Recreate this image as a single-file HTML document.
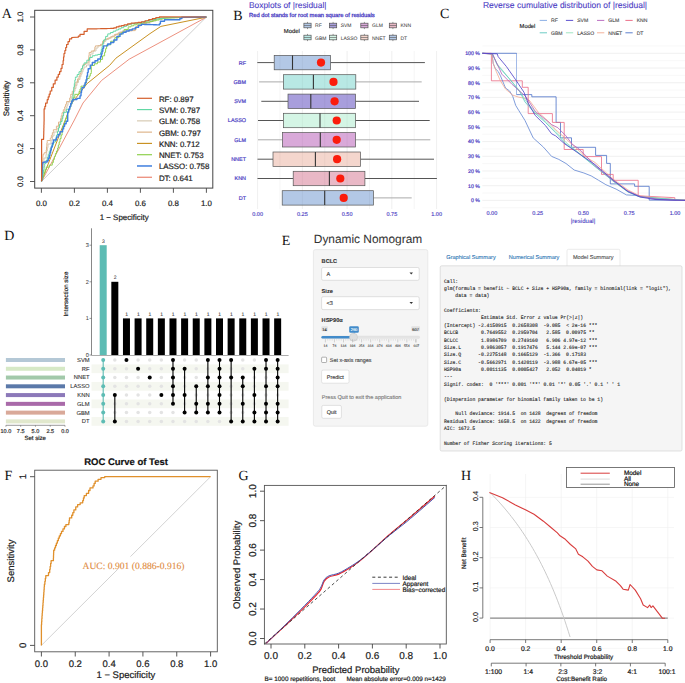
<!DOCTYPE html>
<html><head><meta charset="utf-8"><style>
html,body{margin:0;padding:0;background:#fff;width:685px;height:683px;overflow:hidden}
svg{display:block} text{text-rendering:geometricPrecision}
</style></head><body>
<svg width="685" height="683" viewBox="0 0 685 683">
<rect x="0" y="0" width="685" height="683" fill="#fff"/>
<text x="6.9" y="14.8" style="font-family:'Liberation Serif',serif;font-size:14px;font-weight:normal" fill="#111" text-anchor="middle" dominant-baseline="central">A</text>
<rect x="34.7" y="10.3" width="178.1" height="177.8" fill="none" stroke="#444" stroke-width="1" rx="0"/>
<line x1="41.4" y1="181.5" x2="206.4" y2="17.0" stroke="#c8c8c8" stroke-width="0.9"/>
<line x1="41.4" y1="188.1" x2="41.4" y2="192.8" stroke="#444" stroke-width="0.9"/>
<line x1="30" y1="181.5" x2="34.7" y2="181.5" stroke="#444" stroke-width="0.9"/>
<text x="41.4" y="203.5" style="font-family:'Liberation Sans',sans-serif;font-size:7.9px;font-weight:normal" fill="#222" text-anchor="middle" dominant-baseline="central" stroke="#222" stroke-width="0.2">0.0</text>
<text x="20.8" y="181.5" style="font-family:'Liberation Sans',sans-serif;font-size:7.9px;font-weight:normal" fill="#222" text-anchor="middle" dominant-baseline="central" transform="rotate(-90 20.8 181.5)" stroke="#222" stroke-width="0.2">0.0</text>
<line x1="74.4" y1="188.1" x2="74.4" y2="192.8" stroke="#444" stroke-width="0.9"/>
<line x1="30" y1="148.6" x2="34.7" y2="148.6" stroke="#444" stroke-width="0.9"/>
<text x="74.4" y="203.5" style="font-family:'Liberation Sans',sans-serif;font-size:7.9px;font-weight:normal" fill="#222" text-anchor="middle" dominant-baseline="central" stroke="#222" stroke-width="0.2">0.2</text>
<text x="20.8" y="148.6" style="font-family:'Liberation Sans',sans-serif;font-size:7.9px;font-weight:normal" fill="#222" text-anchor="middle" dominant-baseline="central" transform="rotate(-90 20.8 148.6)" stroke="#222" stroke-width="0.2">0.2</text>
<line x1="107.4" y1="188.1" x2="107.4" y2="192.8" stroke="#444" stroke-width="0.9"/>
<line x1="30" y1="115.7" x2="34.7" y2="115.7" stroke="#444" stroke-width="0.9"/>
<text x="107.4" y="203.5" style="font-family:'Liberation Sans',sans-serif;font-size:7.9px;font-weight:normal" fill="#222" text-anchor="middle" dominant-baseline="central" stroke="#222" stroke-width="0.2">0.4</text>
<text x="20.8" y="115.7" style="font-family:'Liberation Sans',sans-serif;font-size:7.9px;font-weight:normal" fill="#222" text-anchor="middle" dominant-baseline="central" transform="rotate(-90 20.8 115.7)" stroke="#222" stroke-width="0.2">0.4</text>
<line x1="140.4" y1="188.1" x2="140.4" y2="192.8" stroke="#444" stroke-width="0.9"/>
<line x1="30" y1="82.8" x2="34.7" y2="82.8" stroke="#444" stroke-width="0.9"/>
<text x="140.4" y="203.5" style="font-family:'Liberation Sans',sans-serif;font-size:7.9px;font-weight:normal" fill="#222" text-anchor="middle" dominant-baseline="central" stroke="#222" stroke-width="0.2">0.6</text>
<text x="20.8" y="82.8" style="font-family:'Liberation Sans',sans-serif;font-size:7.9px;font-weight:normal" fill="#222" text-anchor="middle" dominant-baseline="central" transform="rotate(-90 20.8 82.8)" stroke="#222" stroke-width="0.2">0.6</text>
<line x1="173.4" y1="188.1" x2="173.4" y2="192.8" stroke="#444" stroke-width="0.9"/>
<line x1="30" y1="49.900000000000006" x2="34.7" y2="49.900000000000006" stroke="#444" stroke-width="0.9"/>
<text x="173.4" y="203.5" style="font-family:'Liberation Sans',sans-serif;font-size:7.9px;font-weight:normal" fill="#222" text-anchor="middle" dominant-baseline="central" stroke="#222" stroke-width="0.2">0.8</text>
<text x="20.8" y="49.900000000000006" style="font-family:'Liberation Sans',sans-serif;font-size:7.9px;font-weight:normal" fill="#222" text-anchor="middle" dominant-baseline="central" transform="rotate(-90 20.8 49.900000000000006)" stroke="#222" stroke-width="0.2">0.8</text>
<line x1="206.4" y1="188.1" x2="206.4" y2="192.8" stroke="#444" stroke-width="0.9"/>
<line x1="30" y1="17.0" x2="34.7" y2="17.0" stroke="#444" stroke-width="0.9"/>
<text x="206.4" y="203.5" style="font-family:'Liberation Sans',sans-serif;font-size:7.9px;font-weight:normal" fill="#222" text-anchor="middle" dominant-baseline="central" stroke="#222" stroke-width="0.2">1.0</text>
<text x="20.8" y="17.0" style="font-family:'Liberation Sans',sans-serif;font-size:7.9px;font-weight:normal" fill="#222" text-anchor="middle" dominant-baseline="central" transform="rotate(-90 20.8 17.0)" stroke="#222" stroke-width="0.2">1.0</text>
<text x="124.2" y="217.6" style="font-family:'Liberation Sans',sans-serif;font-size:7.9px;font-weight:normal" fill="#222" text-anchor="middle" dominant-baseline="central" stroke="#222" stroke-width="0.2">1 − Specificity</text>
<text x="6.0" y="98.5" style="font-family:'Liberation Sans',sans-serif;font-size:7.9px;font-weight:normal" fill="#222" text-anchor="middle" dominant-baseline="central" transform="rotate(-90 6.0 98.5)" stroke="#222" stroke-width="0.2">Sensitivity</text>
<polyline points="41.60,181.30 74.40,120.00 83.00,103.00 101.50,80.50 129.20,59.20 150.00,47.90 206.40,17.20" fill="none" stroke="#ea8470" stroke-width="0.9" stroke-linejoin="round"/>
<polyline points="41.40,181.50 71.80,103.00 87.10,83.60 109.70,65.30 115.90,58.20 150.00,33.60 160.90,26.40 206.40,17.20" fill="none" stroke="#c99223" stroke-width="1.0" stroke-linejoin="round"/>
<polyline points="41.60,181.30 41.60,179.78 41.94,179.78 41.94,176.74 42.29,176.74 42.29,173.69 42.63,173.69 42.63,170.65 42.97,170.65 42.97,167.61 43.31,167.61 43.31,164.56 43.66,164.56 43.66,161.52 44.00,161.52 44.00,160.00 44.00,158.00 46.00,158.00 46.00,156.00 46.00,154.33 46.67,154.33 46.67,151.00 47.33,151.00 47.33,147.67 48.00,147.67 48.00,146.00 48.00,144.00 51.00,144.00 51.00,142.00 51.00,140.00 52.50,140.00 52.50,136.00 54.00,136.00 54.00,134.00 54.00,132.00 57.00,132.00 57.00,130.00 57.00,128.75 58.25,128.75 58.25,126.25 59.50,126.25 59.50,125.00 59.50,123.75 60.50,123.75 60.50,121.25 61.50,121.25 61.50,120.00 61.50,118.50 62.50,118.50 62.50,115.50 63.50,115.50 63.50,114.00 63.50,112.75 64.75,112.75 64.75,110.25 66.00,110.25 66.00,109.00 66.00,107.75 67.00,107.75 67.00,105.25 68.00,105.25 68.00,104.00 68.00,102.00 71.00,102.00 71.00,100.00 71.00,98.75 71.75,98.75 71.75,96.25 72.50,96.25 72.50,95.00 72.50,93.75 73.75,93.75 73.75,91.25 75.00,91.25 75.00,90.00 75.00,88.50 76.00,88.50 76.00,85.50 77.00,85.50 77.00,84.00 77.00,82.50 78.50,82.50 78.50,79.50 80.00,79.50 80.00,78.00 80.00,76.75 81.00,76.75 81.00,74.25 82.00,74.25 82.00,73.00 82.00,71.75 83.00,71.75 83.00,69.25 84.00,69.25 84.00,68.00 84.00,67.00 86.50,67.00 86.50,65.00 89.00,65.00 89.00,64.00 89.00,62.00 89.75,62.00 89.75,58.00 90.50,58.00 90.50,56.00 90.50,54.00 93.00,54.00 93.00,52.00 93.00,51.00 96.00,51.00 96.00,50.00 96.00,48.00 98.00,48.00 98.00,46.00 98.00,45.50 102.00,45.50 102.00,45.00 102.00,43.75 104.00,43.75 104.00,41.25 106.00,41.25 106.00,40.00 106.00,39.25 109.00,39.25 109.00,37.75 112.00,37.75 112.00,37.00 112.00,36.00 115.50,36.00 115.50,34.00 119.00,34.00 119.00,33.00 119.00,32.25 122.50,32.25 122.50,30.75 126.00,30.75 126.00,30.00 126.00,29.83 129.33,29.83 129.33,29.50 132.67,29.50 132.67,29.17 136.00,29.17 136.00,29.00 136.00,26.75 140.00,26.75 140.00,24.50 140.00,24.12 143.00,24.12 143.00,23.38 146.00,23.38 146.00,22.62 149.00,22.62 149.00,21.88 152.00,21.88 152.00,21.50 152.00,20.92 155.33,20.92 155.33,19.75 158.67,19.75 158.67,18.58 162.00,18.58 162.00,18.00 162.00,17.97 165.17,17.97 165.17,17.91 168.34,17.91 168.34,17.86 171.51,17.86 171.51,17.80 174.69,17.80 174.69,17.74 177.86,17.74 177.86,17.69 181.03,17.69 181.03,17.63 184.20,17.63 184.20,17.57 187.37,17.57 187.37,17.51 190.54,17.51 190.54,17.46 193.71,17.46 193.71,17.40 196.89,17.40 196.89,17.34 200.06,17.34 200.06,17.29 203.23,17.29 203.23,17.23 206.40,17.23 206.40,17.20" fill="none" stroke="#d7cab4" stroke-width="1.0" stroke-linejoin="round"/>
<polyline points="41.60,181.30 41.60,179.64 41.79,179.64 41.79,176.33 41.98,176.33 41.98,173.02 42.16,173.02 42.16,169.71 42.35,169.71 42.35,166.39 42.54,166.39 42.54,163.08 42.73,163.08 42.73,159.77 42.91,159.77 42.91,156.46 43.10,156.46 43.10,154.80 43.10,154.30 44.10,154.30 44.10,153.80 44.10,152.80 46.20,152.80 46.20,151.80 46.20,150.08 46.53,150.08 46.53,146.65 46.87,146.65 46.87,143.22 47.20,143.22 47.20,141.50 47.20,140.50 50.30,140.50 50.30,139.50 50.30,138.13 51.33,138.13 51.33,135.40 52.37,135.40 52.37,132.67 53.40,132.67 53.40,131.30 53.40,129.75 56.40,129.75 56.40,128.20 56.40,126.15 58.50,126.15 58.50,124.10 58.50,122.05 60.50,122.05 60.50,120.00 60.50,118.58 61.25,118.58 61.25,115.72 62.00,115.72 62.00,114.30 62.00,112.78 63.30,112.78 63.30,109.73 64.60,109.73 64.60,108.20 64.60,106.90 65.60,106.90 65.60,104.30 66.60,104.30 66.60,103.00 66.60,101.50 69.70,101.50 69.70,100.00 69.70,97.95 70.70,97.95 70.70,95.90 70.70,94.35 72.25,94.35 72.25,91.25 73.80,91.25 73.80,89.70 73.80,88.17 74.85,88.17 74.85,85.12 75.90,85.12 75.90,83.60 75.90,82.05 77.45,82.05 77.45,78.95 79.00,78.95 79.00,77.40 79.00,76.12 80.00,76.12 80.00,73.57 81.00,73.57 81.00,72.30 81.00,71.03 81.75,71.03 81.75,68.48 82.50,68.48 82.50,67.20 82.50,66.25 83.10,66.25 83.10,65.30 83.10,64.55 85.65,64.55 85.65,63.05 88.20,63.05 88.20,62.30 88.20,60.93 88.53,60.93 88.53,58.20 88.87,58.20 88.87,55.47 89.20,55.47 89.20,54.10 89.20,52.55 91.30,52.55 91.30,51.00 94.30,51.00 94.30,49.73 94.85,49.73 94.85,47.17 95.40,47.17 95.40,45.90 100.50,45.90 100.50,44.35 102.55,44.35 102.55,41.25 104.60,41.25 104.60,39.70 104.60,39.20 107.65,39.20 107.65,38.20 110.70,38.20 110.70,37.70 110.70,36.68 114.30,36.68 114.30,34.62 117.90,34.62 117.90,33.60 117.90,33.08 120.45,33.08 120.45,32.03 123.00,32.03 123.00,31.50 123.00,31.38 126.08,31.38 126.08,31.12 129.15,31.12 129.15,30.88 132.23,30.88 132.23,30.62 135.30,30.62 135.30,30.50 135.30,29.23 136.35,29.23 136.35,26.68 137.40,26.68 137.40,25.40 137.40,25.01 140.55,25.01 140.55,24.24 143.70,24.24 143.70,23.46 146.85,23.46 146.85,22.69 150.00,22.69 150.00,22.30 150.00,21.50 153.13,21.50 153.13,19.90 156.27,19.90 156.27,18.30 159.40,18.30 159.40,17.50 159.40,17.49 162.53,17.49 162.53,17.47 165.67,17.47 165.67,17.45 168.80,17.45 168.80,17.43 171.93,17.43 171.93,17.41 175.07,17.41 175.07,17.39 178.20,17.39 178.20,17.37 181.33,17.37 181.33,17.35 184.47,17.35 184.47,17.33 187.60,17.33 187.60,17.31 190.73,17.31 190.73,17.29 193.87,17.29 193.87,17.27 197.00,17.27 197.00,17.25 200.13,17.25 200.13,17.23 203.27,17.23 203.27,17.21 206.40,17.21 206.40,17.20" fill="none" stroke="#dfb68c" stroke-width="1.0" stroke-linejoin="round"/>
<polyline points="41.60,181.30 41.60,179.66 42.75,179.66 42.75,176.39 43.90,176.39 43.90,173.11 45.05,173.11 45.05,169.84 46.20,169.84 46.20,168.20 46.20,167.17 49.25,167.17 49.25,165.12 52.30,165.12 52.30,164.10 52.30,162.55 53.33,162.55 53.33,159.45 54.37,159.45 54.37,156.35 55.40,156.35 55.40,154.80 55.40,153.53 56.45,153.53 56.45,150.97 57.50,150.97 57.50,149.70 57.50,148.17 58.33,148.17 58.33,145.10 59.17,145.10 59.17,142.03 60.00,142.03 60.00,140.50 60.00,138.70 61.05,138.70 61.05,135.10 62.10,135.10 62.10,133.30 62.10,132.03 62.35,132.03 62.35,129.47 62.60,129.47 62.60,128.20 62.60,126.83 63.63,126.83 63.63,124.10 64.67,124.10 64.67,121.37 65.70,121.37 65.70,120.00 65.70,118.70 66.60,118.70 66.60,117.40 66.60,115.86 67.62,115.86 67.62,112.79 68.65,112.79 68.65,109.71 69.68,109.71 69.68,106.64 70.70,106.64 70.70,105.10 70.70,103.57 72.07,103.57 72.07,100.50 73.43,100.50 73.43,97.43 74.80,97.43 74.80,95.90 74.80,94.35 79.00,94.35 79.00,92.80 79.00,91.53 80.00,91.53 80.00,88.98 81.00,88.98 81.00,87.70 81.00,86.15 85.10,86.15 85.10,84.60 85.10,83.32 86.10,83.32 86.10,80.77 87.10,80.77 87.10,79.50 87.10,78.45 89.20,78.45 89.20,77.40 89.20,76.12 90.25,76.12 90.25,73.57 91.30,73.57 91.30,72.30 91.30,66.40 91.30,65.53 94.37,65.53 94.37,63.80 97.43,63.80 97.43,62.07 100.50,62.07 100.50,61.20 100.50,59.43 102.55,59.43 102.55,55.88 104.60,55.88 104.60,54.10 104.60,52.30 105.60,52.30 105.60,48.70 106.60,48.70 106.60,46.90 106.60,44.85 110.70,44.85 110.70,42.80 110.70,41.25 114.80,41.25 114.80,39.70 114.80,37.65 118.90,37.65 118.90,35.60 118.90,34.58 121.50,34.58 121.50,32.53 124.10,32.53 124.10,31.50 124.10,29.45 128.20,29.45 128.20,27.40 128.20,26.88 130.93,26.88 130.93,25.85 133.67,25.85 133.67,24.82 136.40,24.82 136.40,24.30 136.40,23.99 139.80,23.99 139.80,23.36 143.20,23.36 143.20,22.74 146.60,22.74 146.60,22.11 150.00,22.11 150.00,21.80 150.00,21.44 153.10,21.44 153.10,20.72 156.20,20.72 156.20,20.00 159.30,20.00 159.30,19.28 162.40,19.28 162.40,18.56 165.50,18.56 165.50,18.20 165.50,18.12 168.58,18.12 168.58,17.96 171.66,17.96 171.66,17.80 174.74,17.80 174.74,17.64 177.82,17.64 177.82,17.48 180.90,17.48 180.90,17.40 206.40,17.20" fill="none" stroke="#8fd14f" stroke-width="1.0" stroke-linejoin="round"/>
<polyline points="41.60,181.30 41.60,179.68 42.22,179.68 42.22,176.44 42.84,176.44 42.84,173.20 43.46,173.20 43.46,169.96 44.08,169.96 44.08,166.72 44.70,166.72 44.70,165.10 44.70,163.55 45.95,163.55 45.95,160.45 47.20,160.45 47.20,158.90 47.20,157.37 48.23,157.37 48.23,154.30 49.27,154.30 49.27,151.23 50.30,151.23 50.30,149.70 50.30,148.17 51.85,148.17 51.85,145.12 53.40,145.12 53.40,143.60 53.40,142.05 55.40,142.05 55.40,140.50 55.40,138.70 56.45,138.70 56.45,135.10 57.50,135.10 57.50,133.30 57.50,131.50 58.50,131.50 58.50,127.90 59.50,127.90 59.50,126.10 59.50,124.57 60.80,124.57 60.80,121.52 62.10,121.52 62.10,120.00 62.10,118.58 62.85,118.58 62.85,115.72 63.60,115.72 63.60,114.30 63.60,112.25 66.60,112.25 66.60,110.20 66.60,109.20 69.70,109.20 69.70,108.20 69.70,106.65 70.73,106.65 70.73,103.55 71.77,103.55 71.77,100.45 72.80,100.45 72.80,98.90 72.80,97.20 73.13,97.20 73.13,93.80 73.47,93.80 73.47,90.40 73.80,90.40 73.80,88.70 73.80,86.98 74.33,86.98 74.33,83.55 74.87,83.55 74.87,80.12 75.40,80.12 75.40,78.40 75.40,77.12 77.20,77.12 77.20,74.57 79.00,74.57 79.00,73.30 79.00,71.75 81.00,71.75 81.00,70.20 81.00,68.72 82.55,68.72 82.55,65.77 84.10,65.77 84.10,64.30 84.10,62.93 86.83,62.93 86.83,60.20 89.57,60.20 89.57,57.47 92.30,57.47 92.30,56.10 92.30,55.77 95.03,55.77 95.03,55.10 97.77,55.10 97.77,54.43 100.50,54.43 100.50,54.10 100.50,52.56 101.28,52.56 101.28,49.49 102.05,49.49 102.05,46.41 102.83,46.41 102.83,43.34 103.60,43.34 103.60,41.80 103.60,40.00 105.65,40.00 105.65,36.40 107.70,36.40 107.70,34.60 107.70,33.92 110.43,33.92 110.43,32.55 113.17,32.55 113.17,31.18 115.90,31.18 115.90,30.50 115.90,29.98 118.45,29.98 118.45,28.93 121.00,28.93 121.00,28.40 121.00,27.72 123.73,27.72 123.73,26.35 126.47,26.35 126.47,24.98 129.20,24.98 129.20,24.30 129.20,24.05 132.27,24.05 132.27,23.55 135.35,23.55 135.35,23.05 138.42,23.05 138.42,22.55 141.50,22.55 141.50,22.30 141.50,21.95 144.33,21.95 144.33,21.25 147.17,21.25 147.17,20.55 150.00,20.55 150.00,20.20 150.00,19.95 153.10,19.95 153.10,19.45 156.20,19.45 156.20,18.95 159.30,18.95 159.30,18.45 162.40,18.45 162.40,17.95 165.50,17.95 165.50,17.70 165.50,17.68 168.65,17.68 168.65,17.64 171.79,17.64 171.79,17.60 174.94,17.60 174.94,17.57 178.08,17.57 178.08,17.53 181.23,17.53 181.23,17.49 184.38,17.49 184.38,17.45 187.52,17.45 187.52,17.41 190.67,17.41 190.67,17.37 193.82,17.37 193.82,17.33 196.96,17.33 196.96,17.30 200.11,17.30 200.11,17.26 203.25,17.26 203.25,17.22 206.40,17.22 206.40,17.20" fill="none" stroke="#62d8a4" stroke-width="1.0" stroke-linejoin="round"/>
<polyline points="41.60,181.30 41.60,179.78 41.77,179.78 41.77,176.72 41.93,176.72 41.93,173.67 42.10,173.67 42.10,170.62 42.27,170.62 42.27,167.57 42.43,167.57 42.43,164.52 42.60,164.52 42.60,163.00 42.60,162.50 44.10,162.50 44.10,162.00 47.20,162.00 47.20,160.72 48.25,160.72 48.25,158.18 49.30,158.18 49.30,156.90 49.30,155.53 49.97,155.53 49.97,152.80 50.63,152.80 50.63,150.07 51.30,150.07 51.30,148.70 51.30,146.90 52.35,146.90 52.35,143.30 53.40,143.30 53.40,141.50 53.40,139.95 56.40,139.95 56.40,138.40 56.40,137.12 58.20,137.12 58.20,134.57 60.00,134.57 60.00,133.30 60.00,131.75 62.60,131.75 62.60,130.20 62.60,128.92 63.60,128.92 63.60,126.37 64.60,126.37 64.60,125.10 64.60,123.82 66.15,123.82 66.15,121.27 67.70,121.27 67.70,120.00 67.70,113.30 67.70,111.93 68.70,111.93 68.70,109.20 69.70,109.20 69.70,106.47 70.70,106.47 70.70,105.10 70.70,103.82 71.75,103.82 71.75,101.27 72.80,101.27 72.80,100.00 72.80,99.45 76.90,99.45 76.90,98.90 76.90,98.40 80.00,98.40 80.00,97.90 80.00,95.85 81.00,95.85 81.00,93.80 81.00,92.53 81.50,92.53 81.50,89.98 82.00,89.98 82.00,88.70 82.00,87.65 84.10,87.65 84.10,86.60 84.10,85.32 85.10,85.32 85.10,82.77 86.10,82.77 86.10,81.50 86.10,79.67 86.80,79.67 86.80,76.00 87.50,76.00 87.50,72.33 88.20,72.33 88.20,70.50 88.20,68.70 90.25,68.70 90.25,65.10 92.30,65.10 92.30,63.30 92.30,62.45 95.03,62.45 95.03,60.75 97.77,60.75 97.77,59.05 100.50,59.05 100.50,58.20 100.50,56.79 101.28,56.79 101.28,53.96 102.05,53.96 102.05,51.14 102.83,51.14 102.83,48.31 103.60,48.31 103.60,46.90 103.60,45.85 107.70,45.85 107.70,44.80 107.70,44.05 110.75,44.05 110.75,42.55 113.80,42.55 113.80,41.80 113.80,40.00 116.90,40.00 116.90,36.40 120.00,36.40 120.00,34.60 120.00,33.83 123.05,33.83 123.05,32.28 126.10,32.28 126.10,31.50 126.10,30.98 129.17,30.98 129.17,29.95 132.23,29.95 132.23,28.92 135.30,28.92 135.30,28.40 135.30,27.38 138.40,27.38 138.40,25.33 141.50,25.33 141.50,24.30 141.50,24.35 144.48,24.35 144.48,24.45 147.47,24.45 147.47,24.55 150.45,24.55 150.45,24.65 153.43,24.65 153.43,24.75 156.42,24.75 156.42,24.85 159.40,24.85 159.40,24.90 159.40,23.85 160.40,23.85 160.40,22.80 160.40,21.30 164.50,21.30 164.50,19.80 179.90,19.80 179.90,18.50 181.90,18.50 181.90,17.20 206.40,17.00" fill="none" stroke="#3f7fdf" stroke-width="1.4" stroke-linejoin="round"/>
<polyline points="41.60,181.30 41.60,139.50 41.60,139.35 43.60,139.35 43.60,139.20 43.60,137.60 43.68,137.60 43.68,134.40 43.77,134.40 43.77,131.20 43.85,131.20 43.85,128.00 43.93,128.00 43.93,124.80 44.02,124.80 44.02,121.60 44.10,121.60 44.10,120.00 44.10,110.20 44.10,108.92 44.85,108.92 44.85,106.38 45.60,106.38 45.60,105.10 45.60,103.05 47.20,103.05 47.20,101.00 47.20,99.63 48.20,99.63 48.20,96.90 49.20,96.90 49.20,94.17 50.20,94.17 50.20,92.80 50.20,91.00 51.75,91.00 51.75,87.40 53.30,87.40 53.30,85.60 53.30,83.80 55.10,83.80 55.10,80.20 56.90,80.20 56.90,78.40 56.90,77.03 58.27,77.03 58.27,74.30 59.63,74.30 59.63,71.57 61.00,71.57 61.00,70.20 61.00,68.30 62.05,68.30 62.05,64.50 63.10,64.50 63.10,62.60 63.10,60.70 63.55,60.70 63.55,56.90 64.00,56.90 64.00,55.00 64.00,53.50 64.87,53.50 64.87,50.50 65.73,50.50 65.73,47.50 66.60,47.50 66.60,46.00 66.60,44.52 68.05,44.52 68.05,41.58 69.50,41.58 69.50,40.10 69.50,38.80 71.70,38.80 71.70,37.50 78.30,37.20 78.30,36.15 80.00,36.15 80.00,35.10 80.00,34.35 84.10,34.35 84.10,33.60 84.10,31.30 87.20,31.30 87.20,29.00 87.20,28.96 90.53,28.96 90.53,28.89 93.85,28.89 93.85,28.81 97.18,28.81 97.18,28.74 100.50,28.74 100.50,28.66 103.83,28.66 103.83,28.59 107.15,28.59 107.15,28.51 110.48,28.51 110.48,28.44 113.80,28.44 113.80,28.40 113.80,27.90 116.35,27.90 116.35,26.90 118.90,26.90 118.90,26.40 118.90,26.15 121.50,26.15 121.50,25.65 124.10,25.65 124.10,25.40 124.10,24.88 127.65,24.88 127.65,23.83 131.20,23.83 131.20,23.30 131.20,23.13 134.63,23.13 134.63,22.80 138.07,22.80 138.07,22.47 141.50,22.47 141.50,22.30 141.50,21.78 145.10,21.78 145.10,20.75 148.70,20.75 148.70,19.72 152.30,19.72 152.30,19.20 152.30,18.62 155.85,18.62 155.85,17.48 159.40,17.48 159.40,16.90 206.40,17.00" fill="none" stroke="#d45f2c" stroke-width="1.2" stroke-linejoin="round"/>
<line x1="137" y1="98.3" x2="152" y2="98.3" stroke="#d45f2c" stroke-width="1.2"/>
<text x="158.9" y="99.2" style="font-family:'Liberation Sans',sans-serif;font-size:7.9px;font-weight:normal" fill="#222" text-anchor="start" dominant-baseline="central" stroke="#222" stroke-width="0.2">RF: 0.897</text>
<line x1="137" y1="109.58" x2="152" y2="109.58" stroke="#62d8a4" stroke-width="1.2"/>
<text x="158.9" y="110.48" style="font-family:'Liberation Sans',sans-serif;font-size:7.9px;font-weight:normal" fill="#222" text-anchor="start" dominant-baseline="central" stroke="#222" stroke-width="0.2">SVM: 0.787</text>
<line x1="137" y1="120.86" x2="152" y2="120.86" stroke="#d7cab4" stroke-width="1.2"/>
<text x="158.9" y="121.76" style="font-family:'Liberation Sans',sans-serif;font-size:7.9px;font-weight:normal" fill="#222" text-anchor="start" dominant-baseline="central" stroke="#222" stroke-width="0.2">GLM: 0.758</text>
<line x1="137" y1="132.14" x2="152" y2="132.14" stroke="#dfb68c" stroke-width="1.2"/>
<text x="158.9" y="133.04" style="font-family:'Liberation Sans',sans-serif;font-size:7.9px;font-weight:normal" fill="#222" text-anchor="start" dominant-baseline="central" stroke="#222" stroke-width="0.2">GBM: 0.797</text>
<line x1="137" y1="143.42" x2="152" y2="143.42" stroke="#c99223" stroke-width="1.2"/>
<text x="158.9" y="144.32" style="font-family:'Liberation Sans',sans-serif;font-size:7.9px;font-weight:normal" fill="#222" text-anchor="start" dominant-baseline="central" stroke="#222" stroke-width="0.2">KNN: 0.712</text>
<line x1="137" y1="154.7" x2="152" y2="154.7" stroke="#8fd14f" stroke-width="1.2"/>
<text x="158.9" y="155.6" style="font-family:'Liberation Sans',sans-serif;font-size:7.9px;font-weight:normal" fill="#222" text-anchor="start" dominant-baseline="central" stroke="#222" stroke-width="0.2">NNET: 0.753</text>
<line x1="137" y1="165.98" x2="152" y2="165.98" stroke="#3f7fdf" stroke-width="1.5"/>
<text x="158.9" y="166.88" style="font-family:'Liberation Sans',sans-serif;font-size:7.9px;font-weight:normal" fill="#222" text-anchor="start" dominant-baseline="central" stroke="#222" stroke-width="0.2">LASSO: 0.758</text>
<line x1="137" y1="177.26" x2="152" y2="177.26" stroke="#ea8470" stroke-width="1.2"/>
<text x="158.9" y="178.16" style="font-family:'Liberation Sans',sans-serif;font-size:7.9px;font-weight:normal" fill="#222" text-anchor="start" dominant-baseline="central" stroke="#222" stroke-width="0.2">DT: 0.641</text>
<text x="238.0" y="16.2" style="font-family:'Liberation Serif',serif;font-size:14px;font-weight:normal" fill="#111" text-anchor="middle" dominant-baseline="central">B</text>
<text x="249.0" y="5.1" style="font-family:'Liberation Sans',sans-serif;font-size:8.4px;font-weight:normal" fill="#4b3dc4" text-anchor="start" dominant-baseline="central" stroke="#4b3dc4" stroke-width="0.1">Boxplots of |residual|</text>
<text x="249.0" y="15.9" style="font-family:'Liberation Sans',sans-serif;font-size:5.8px;font-weight:normal" fill="#4b3dc4" text-anchor="start" dominant-baseline="central" stroke="#4b3dc4" stroke-width="0.3">Red dot stands for root mean square of residuals</text>
<text x="283.8" y="32.2" style="font-family:'Liberation Sans',sans-serif;font-size:5.9px;font-weight:normal" fill="#222" text-anchor="start" dominant-baseline="central" stroke="#222" stroke-width="0.15">Model</text>
<line x1="307.5" y1="21.9" x2="307.5" y2="29.1" stroke="#555" stroke-width="0.6"/>
<rect x="303.9" y="23.2" width="7.2" height="4.6" fill="#b3c8e6" stroke="#555" stroke-width="0.7" rx="0"/>
<line x1="303.9" y1="25.5" x2="311.09999999999997" y2="25.5" stroke="#555" stroke-width="0.6"/>
<text x="315.09999999999997" y="26.0" style="font-family:'Liberation Sans',sans-serif;font-size:5.0px;font-weight:normal" fill="#444" text-anchor="start" dominant-baseline="central" stroke="#444" stroke-width="0.05">RF</text>
<line x1="333.1" y1="21.9" x2="333.1" y2="29.1" stroke="#555" stroke-width="0.6"/>
<rect x="329.5" y="23.2" width="7.2" height="4.6" fill="#a89edc" stroke="#555" stroke-width="0.7" rx="0"/>
<line x1="329.5" y1="25.5" x2="336.7" y2="25.5" stroke="#555" stroke-width="0.6"/>
<text x="340.7" y="26.0" style="font-family:'Liberation Sans',sans-serif;font-size:5.0px;font-weight:normal" fill="#444" text-anchor="start" dominant-baseline="central" stroke="#444" stroke-width="0.05">SVM</text>
<line x1="364.40000000000003" y1="21.9" x2="364.40000000000003" y2="29.1" stroke="#555" stroke-width="0.6"/>
<rect x="360.8" y="23.2" width="7.2" height="4.6" fill="#d9a9d9" stroke="#555" stroke-width="0.7" rx="0"/>
<line x1="360.8" y1="25.5" x2="368.0" y2="25.5" stroke="#555" stroke-width="0.6"/>
<text x="372.0" y="26.0" style="font-family:'Liberation Sans',sans-serif;font-size:5.0px;font-weight:normal" fill="#444" text-anchor="start" dominant-baseline="central" stroke="#444" stroke-width="0.05">GLM</text>
<line x1="392.90000000000003" y1="21.9" x2="392.90000000000003" y2="29.1" stroke="#555" stroke-width="0.6"/>
<rect x="389.3" y="23.2" width="7.2" height="4.6" fill="#e9b8c6" stroke="#555" stroke-width="0.7" rx="0"/>
<line x1="389.3" y1="25.5" x2="396.5" y2="25.5" stroke="#555" stroke-width="0.6"/>
<text x="400.5" y="26.0" style="font-family:'Liberation Sans',sans-serif;font-size:5.0px;font-weight:normal" fill="#444" text-anchor="start" dominant-baseline="central" stroke="#444" stroke-width="0.05">KNN</text>
<line x1="307.5" y1="33.9" x2="307.5" y2="41.1" stroke="#555" stroke-width="0.6"/>
<rect x="303.9" y="35.2" width="7.2" height="4.6" fill="#b8e8e4" stroke="#555" stroke-width="0.7" rx="0"/>
<line x1="303.9" y1="37.5" x2="311.09999999999997" y2="37.5" stroke="#555" stroke-width="0.6"/>
<text x="315.09999999999997" y="38.9" style="font-family:'Liberation Sans',sans-serif;font-size:5.0px;font-weight:normal" fill="#444" text-anchor="start" dominant-baseline="central" stroke="#444" stroke-width="0.05">GBM</text>
<line x1="333.1" y1="33.9" x2="333.1" y2="41.1" stroke="#555" stroke-width="0.6"/>
<rect x="329.5" y="35.2" width="7.2" height="4.6" fill="#d4f5e5" stroke="#555" stroke-width="0.7" rx="0"/>
<line x1="329.5" y1="37.5" x2="336.7" y2="37.5" stroke="#555" stroke-width="0.6"/>
<text x="340.7" y="38.9" style="font-family:'Liberation Sans',sans-serif;font-size:5.0px;font-weight:normal" fill="#444" text-anchor="start" dominant-baseline="central" stroke="#444" stroke-width="0.05">LASSO</text>
<line x1="364.40000000000003" y1="33.9" x2="364.40000000000003" y2="41.1" stroke="#555" stroke-width="0.6"/>
<rect x="360.8" y="35.2" width="7.2" height="4.6" fill="#f4d6cd" stroke="#555" stroke-width="0.7" rx="0"/>
<line x1="360.8" y1="37.5" x2="368.0" y2="37.5" stroke="#555" stroke-width="0.6"/>
<text x="372.0" y="38.9" style="font-family:'Liberation Sans',sans-serif;font-size:5.0px;font-weight:normal" fill="#444" text-anchor="start" dominant-baseline="central" stroke="#444" stroke-width="0.05">NNET</text>
<line x1="392.90000000000003" y1="33.9" x2="392.90000000000003" y2="41.1" stroke="#555" stroke-width="0.6"/>
<rect x="389.3" y="35.2" width="7.2" height="4.6" fill="#b3c8e6" stroke="#555" stroke-width="0.7" rx="0"/>
<line x1="389.3" y1="37.5" x2="396.5" y2="37.5" stroke="#555" stroke-width="0.6"/>
<text x="400.5" y="38.9" style="font-family:'Liberation Sans',sans-serif;font-size:5.0px;font-weight:normal" fill="#444" text-anchor="start" dominant-baseline="central" stroke="#444" stroke-width="0.05">DT</text>
<line x1="257.6" y1="51" x2="257.6" y2="209" stroke="#ebebeb" stroke-width="0.8"/>
<line x1="279.975" y1="51" x2="279.975" y2="209" stroke="#f3f3f3" stroke-width="0.8"/>
<line x1="302.35" y1="51" x2="302.35" y2="209" stroke="#ebebeb" stroke-width="0.8"/>
<line x1="324.725" y1="51" x2="324.725" y2="209" stroke="#f3f3f3" stroke-width="0.8"/>
<line x1="347.1" y1="51" x2="347.1" y2="209" stroke="#ebebeb" stroke-width="0.8"/>
<line x1="369.475" y1="51" x2="369.475" y2="209" stroke="#f3f3f3" stroke-width="0.8"/>
<line x1="391.85" y1="51" x2="391.85" y2="209" stroke="#ebebeb" stroke-width="0.8"/>
<line x1="414.225" y1="51" x2="414.225" y2="209" stroke="#f3f3f3" stroke-width="0.8"/>
<line x1="436.6" y1="51" x2="436.6" y2="209" stroke="#ebebeb" stroke-width="0.8"/>
<text x="257.6" y="214.9" style="font-family:'Liberation Sans',sans-serif;font-size:5.5px;font-weight:normal" fill="#4b3dc4" text-anchor="middle" dominant-baseline="central" stroke="#4b3dc4" stroke-width="0.15">0.00</text>
<text x="302.35" y="214.9" style="font-family:'Liberation Sans',sans-serif;font-size:5.5px;font-weight:normal" fill="#4b3dc4" text-anchor="middle" dominant-baseline="central" stroke="#4b3dc4" stroke-width="0.15">0.25</text>
<text x="347.1" y="214.9" style="font-family:'Liberation Sans',sans-serif;font-size:5.5px;font-weight:normal" fill="#4b3dc4" text-anchor="middle" dominant-baseline="central" stroke="#4b3dc4" stroke-width="0.15">0.50</text>
<text x="391.85" y="214.9" style="font-family:'Liberation Sans',sans-serif;font-size:5.5px;font-weight:normal" fill="#4b3dc4" text-anchor="middle" dominant-baseline="central" stroke="#4b3dc4" stroke-width="0.15">0.75</text>
<text x="436.6" y="214.9" style="font-family:'Liberation Sans',sans-serif;font-size:5.5px;font-weight:normal" fill="#4b3dc4" text-anchor="middle" dominant-baseline="central" stroke="#4b3dc4" stroke-width="0.15">1.00</text>
<text x="246.0" y="63.5" style="font-family:'Liberation Sans',sans-serif;font-size:5.45px;font-weight:normal" fill="#4b3dc4" text-anchor="end" dominant-baseline="central" stroke="#4b3dc4" stroke-width="0.2">RF</text>
<line x1="257.3" y1="62.6" x2="274.2" y2="62.6" stroke="#555" stroke-width="1.0"/>
<line x1="330.5" y1="62.6" x2="424.9" y2="62.6" stroke="#555" stroke-width="1.0"/>
<rect x="274.2" y="55.4" width="56.30000000000001" height="14.4" fill="#b3c8e6" stroke="#555" stroke-width="0.7" rx="0"/>
<line x1="279.975" y1="55.800000000000004" x2="279.975" y2="69.4" stroke="#000" stroke-width="0.7" stroke-opacity="0.06"/>
<line x1="302.35" y1="55.800000000000004" x2="302.35" y2="69.4" stroke="#000" stroke-width="0.7" stroke-opacity="0.06"/>
<line x1="324.725" y1="55.800000000000004" x2="324.725" y2="69.4" stroke="#000" stroke-width="0.7" stroke-opacity="0.06"/>
<line x1="292.5" y1="55.4" x2="292.5" y2="69.8" stroke="#333" stroke-width="1.1"/>
<circle cx="321.0" cy="62.6" r="4.1" fill="#fb1c0c"/>
<text x="246.0" y="82.8" style="font-family:'Liberation Sans',sans-serif;font-size:5.45px;font-weight:normal" fill="#4b3dc4" text-anchor="end" dominant-baseline="central" stroke="#4b3dc4" stroke-width="0.2">GBM</text>
<line x1="259.1" y1="81.9" x2="283.4" y2="81.9" stroke="#aaa" stroke-width="1.0"/>
<line x1="355.8" y1="81.9" x2="421.7" y2="81.9" stroke="#aaa" stroke-width="1.0"/>
<rect x="283.4" y="74.7" width="72.40000000000003" height="14.4" fill="#b8e8e4" stroke="#555" stroke-width="0.7" rx="0"/>
<line x1="302.35" y1="75.10000000000001" x2="302.35" y2="88.7" stroke="#000" stroke-width="0.7" stroke-opacity="0.06"/>
<line x1="324.725" y1="75.10000000000001" x2="324.725" y2="88.7" stroke="#000" stroke-width="0.7" stroke-opacity="0.06"/>
<line x1="347.1" y1="75.10000000000001" x2="347.1" y2="88.7" stroke="#000" stroke-width="0.7" stroke-opacity="0.06"/>
<line x1="313.4" y1="74.7" x2="313.4" y2="89.10000000000001" stroke="#333" stroke-width="1.1"/>
<circle cx="333.5" cy="81.9" r="4.1" fill="#fb1c0c"/>
<text x="246.0" y="102.2" style="font-family:'Liberation Sans',sans-serif;font-size:5.45px;font-weight:normal" fill="#4b3dc4" text-anchor="end" dominant-baseline="central" stroke="#4b3dc4" stroke-width="0.2">SVM</text>
<line x1="261.3" y1="101.3" x2="288.0" y2="101.3" stroke="#555" stroke-width="1.0"/>
<line x1="355.5" y1="101.3" x2="419.0" y2="101.3" stroke="#555" stroke-width="1.0"/>
<rect x="288.0" y="94.1" width="67.5" height="14.4" fill="#a89edc" stroke="#555" stroke-width="0.7" rx="0"/>
<line x1="302.35" y1="94.5" x2="302.35" y2="108.1" stroke="#000" stroke-width="0.7" stroke-opacity="0.06"/>
<line x1="324.725" y1="94.5" x2="324.725" y2="108.1" stroke="#000" stroke-width="0.7" stroke-opacity="0.06"/>
<line x1="347.1" y1="94.5" x2="347.1" y2="108.1" stroke="#000" stroke-width="0.7" stroke-opacity="0.06"/>
<line x1="310.8" y1="94.1" x2="310.8" y2="108.5" stroke="#333" stroke-width="1.1"/>
<circle cx="334.6" cy="101.3" r="4.1" fill="#fb1c0c"/>
<text x="246.0" y="121.4" style="font-family:'Liberation Sans',sans-serif;font-size:5.45px;font-weight:normal" fill="#4b3dc4" text-anchor="end" dominant-baseline="central" stroke="#4b3dc4" stroke-width="0.2">LASSO</text>
<line x1="258.0" y1="120.5" x2="283.4" y2="120.5" stroke="#555" stroke-width="1.0"/>
<line x1="355.5" y1="120.5" x2="429.7" y2="120.5" stroke="#555" stroke-width="1.0"/>
<rect x="283.4" y="113.3" width="72.10000000000002" height="14.4" fill="#d4f5e5" stroke="#555" stroke-width="0.7" rx="0"/>
<line x1="302.35" y1="113.7" x2="302.35" y2="127.3" stroke="#000" stroke-width="0.7" stroke-opacity="0.06"/>
<line x1="324.725" y1="113.7" x2="324.725" y2="127.3" stroke="#000" stroke-width="0.7" stroke-opacity="0.06"/>
<line x1="347.1" y1="113.7" x2="347.1" y2="127.3" stroke="#000" stroke-width="0.7" stroke-opacity="0.06"/>
<line x1="320.0" y1="113.3" x2="320.0" y2="127.7" stroke="#333" stroke-width="1.1"/>
<circle cx="336.7" cy="120.5" r="4.1" fill="#fb1c0c"/>
<text x="246.0" y="140.7" style="font-family:'Liberation Sans',sans-serif;font-size:5.45px;font-weight:normal" fill="#4b3dc4" text-anchor="end" dominant-baseline="central" stroke="#4b3dc4" stroke-width="0.2">GLM</text>
<line x1="258.0" y1="139.8" x2="282.5" y2="139.8" stroke="#aaa" stroke-width="1.0"/>
<line x1="355.5" y1="139.8" x2="430.3" y2="139.8" stroke="#aaa" stroke-width="1.0"/>
<rect x="282.5" y="132.60000000000002" width="73.0" height="14.4" fill="#d9a9d9" stroke="#555" stroke-width="0.7" rx="0"/>
<line x1="302.35" y1="133.0" x2="302.35" y2="146.60000000000002" stroke="#000" stroke-width="0.7" stroke-opacity="0.06"/>
<line x1="324.725" y1="133.0" x2="324.725" y2="146.60000000000002" stroke="#000" stroke-width="0.7" stroke-opacity="0.06"/>
<line x1="347.1" y1="133.0" x2="347.1" y2="146.60000000000002" stroke="#000" stroke-width="0.7" stroke-opacity="0.06"/>
<line x1="320.3" y1="132.60000000000002" x2="320.3" y2="147.0" stroke="#333" stroke-width="1.1"/>
<circle cx="336.7" cy="139.8" r="4.1" fill="#fb1c0c"/>
<text x="246.0" y="160.1" style="font-family:'Liberation Sans',sans-serif;font-size:5.45px;font-weight:normal" fill="#4b3dc4" text-anchor="end" dominant-baseline="central" stroke="#4b3dc4" stroke-width="0.2">NNET</text>
<line x1="257.5" y1="159.2" x2="273.0" y2="159.2" stroke="#555" stroke-width="1.0"/>
<line x1="360.5" y1="159.2" x2="434.0" y2="159.2" stroke="#555" stroke-width="1.0"/>
<rect x="273.0" y="152.0" width="87.5" height="14.4" fill="#f4d6cd" stroke="#555" stroke-width="0.7" rx="0"/>
<line x1="279.975" y1="152.39999999999998" x2="279.975" y2="166.0" stroke="#000" stroke-width="0.7" stroke-opacity="0.06"/>
<line x1="302.35" y1="152.39999999999998" x2="302.35" y2="166.0" stroke="#000" stroke-width="0.7" stroke-opacity="0.06"/>
<line x1="324.725" y1="152.39999999999998" x2="324.725" y2="166.0" stroke="#000" stroke-width="0.7" stroke-opacity="0.06"/>
<line x1="347.1" y1="152.39999999999998" x2="347.1" y2="166.0" stroke="#000" stroke-width="0.7" stroke-opacity="0.06"/>
<line x1="315.4" y1="152.0" x2="315.4" y2="166.39999999999998" stroke="#333" stroke-width="1.1"/>
<circle cx="337.1" cy="159.2" r="4.1" fill="#fb1c0c"/>
<text x="246.0" y="179.4" style="font-family:'Liberation Sans',sans-serif;font-size:5.45px;font-weight:normal" fill="#4b3dc4" text-anchor="end" dominant-baseline="central" stroke="#4b3dc4" stroke-width="0.2">KNN</text>
<line x1="257.5" y1="178.5" x2="293.2" y2="178.5" stroke="#555" stroke-width="1.0"/>
<line x1="364.9" y1="178.5" x2="436.9" y2="178.5" stroke="#555" stroke-width="1.0"/>
<rect x="293.2" y="171.3" width="71.69999999999999" height="14.4" fill="#e9b8c6" stroke="#555" stroke-width="0.7" rx="0"/>
<line x1="302.35" y1="171.7" x2="302.35" y2="185.3" stroke="#000" stroke-width="0.7" stroke-opacity="0.06"/>
<line x1="324.725" y1="171.7" x2="324.725" y2="185.3" stroke="#000" stroke-width="0.7" stroke-opacity="0.06"/>
<line x1="347.1" y1="171.7" x2="347.1" y2="185.3" stroke="#000" stroke-width="0.7" stroke-opacity="0.06"/>
<line x1="329.4" y1="171.3" x2="329.4" y2="185.7" stroke="#333" stroke-width="1.1"/>
<circle cx="340.3" cy="178.5" r="4.1" fill="#fb1c0c"/>
<text x="246.0" y="198.8" style="font-family:'Liberation Sans',sans-serif;font-size:5.45px;font-weight:normal" fill="#4b3dc4" text-anchor="end" dominant-baseline="central" stroke="#4b3dc4" stroke-width="0.2">DT</text>
<line x1="282.2" y1="197.9" x2="282.2" y2="197.9" stroke="#aaa" stroke-width="1.0"/>
<line x1="373.4" y1="197.9" x2="411.7" y2="197.9" stroke="#aaa" stroke-width="1.0"/>
<rect x="282.2" y="190.70000000000002" width="91.19999999999999" height="14.4" fill="#b3c8e6" stroke="#555" stroke-width="0.7" rx="0"/>
<line x1="302.35" y1="191.1" x2="302.35" y2="204.70000000000002" stroke="#000" stroke-width="0.7" stroke-opacity="0.06"/>
<line x1="324.725" y1="191.1" x2="324.725" y2="204.70000000000002" stroke="#000" stroke-width="0.7" stroke-opacity="0.06"/>
<line x1="347.1" y1="191.1" x2="347.1" y2="204.70000000000002" stroke="#000" stroke-width="0.7" stroke-opacity="0.06"/>
<line x1="369.475" y1="191.1" x2="369.475" y2="204.70000000000002" stroke="#000" stroke-width="0.7" stroke-opacity="0.06"/>
<line x1="324.7" y1="190.70000000000002" x2="324.7" y2="205.1" stroke="#333" stroke-width="1.1"/>
<circle cx="343.7" cy="197.9" r="4.1" fill="#fb1c0c"/>
<text x="444.7" y="14.3" style="font-family:'Liberation Serif',serif;font-size:14px;font-weight:normal" fill="#111" text-anchor="middle" dominant-baseline="central">C</text>
<text x="482.9" y="5.3" style="font-family:'Liberation Sans',sans-serif;font-size:8.5px;font-weight:normal" fill="#4b3dc4" text-anchor="start" dominant-baseline="central" stroke="#4b3dc4" stroke-width="0.1">Reverse cumulative distribution of |residual|</text>
<text x="519.6" y="26.9" style="font-family:'Liberation Sans',sans-serif;font-size:5.8px;font-weight:normal" fill="#222" text-anchor="start" dominant-baseline="central" stroke="#222" stroke-width="0.15">Model</text>
<line x1="539.7" y1="20.4" x2="547.0" y2="20.4" stroke="#7fa6e2" stroke-width="0.9"/>
<text x="551.0" y="21.3" style="font-family:'Liberation Sans',sans-serif;font-size:5.1px;font-weight:normal" fill="#444" text-anchor="start" dominant-baseline="central" stroke="#444" stroke-width="0.1">RF</text>
<line x1="565.9" y1="20.4" x2="573.1999999999999" y2="20.4" stroke="#4a3cc8" stroke-width="0.9"/>
<text x="577.1999999999999" y="21.3" style="font-family:'Liberation Sans',sans-serif;font-size:5.1px;font-weight:normal" fill="#444" text-anchor="start" dominant-baseline="central" stroke="#444" stroke-width="0.1">SVM</text>
<line x1="597.0" y1="20.4" x2="604.3" y2="20.4" stroke="#b25cba" stroke-width="0.9"/>
<text x="608.3" y="21.3" style="font-family:'Liberation Sans',sans-serif;font-size:5.1px;font-weight:normal" fill="#444" text-anchor="start" dominant-baseline="central" stroke="#444" stroke-width="0.1">GLM</text>
<line x1="625.4" y1="20.4" x2="632.6999999999999" y2="20.4" stroke="#e8607a" stroke-width="0.9"/>
<text x="636.6999999999999" y="21.3" style="font-family:'Liberation Sans',sans-serif;font-size:5.1px;font-weight:normal" fill="#444" text-anchor="start" dominant-baseline="central" stroke="#444" stroke-width="0.1">KNN</text>
<line x1="539.7" y1="32.8" x2="547.0" y2="32.8" stroke="#5cc6c0" stroke-width="0.9"/>
<text x="551.0" y="33.7" style="font-family:'Liberation Sans',sans-serif;font-size:5.1px;font-weight:normal" fill="#444" text-anchor="start" dominant-baseline="central" stroke="#444" stroke-width="0.1">GBM</text>
<line x1="565.9" y1="32.8" x2="573.1999999999999" y2="32.8" stroke="#94e2bc" stroke-width="0.9"/>
<text x="577.1999999999999" y="33.7" style="font-family:'Liberation Sans',sans-serif;font-size:5.1px;font-weight:normal" fill="#444" text-anchor="start" dominant-baseline="central" stroke="#444" stroke-width="0.1">LASSO</text>
<line x1="597.0" y1="32.8" x2="604.3" y2="32.8" stroke="#f2a890" stroke-width="0.9"/>
<text x="608.3" y="33.7" style="font-family:'Liberation Sans',sans-serif;font-size:5.1px;font-weight:normal" fill="#444" text-anchor="start" dominant-baseline="central" stroke="#444" stroke-width="0.1">NNET</text>
<line x1="625.4" y1="32.8" x2="632.6999999999999" y2="32.8" stroke="#4a70c8" stroke-width="0.9"/>
<text x="636.6999999999999" y="33.7" style="font-family:'Liberation Sans',sans-serif;font-size:5.1px;font-weight:normal" fill="#444" text-anchor="start" dominant-baseline="central" stroke="#444" stroke-width="0.1">DT</text>
<line x1="482.3" y1="207.755" x2="685" y2="207.755" stroke="#f4f4f4" stroke-width="0.6"/>
<line x1="482.3" y1="200.4" x2="685" y2="200.4" stroke="#ececec" stroke-width="0.8"/>
<line x1="482.3" y1="193.04500000000002" x2="685" y2="193.04500000000002" stroke="#f4f4f4" stroke-width="0.6"/>
<line x1="482.3" y1="185.69" x2="685" y2="185.69" stroke="#ececec" stroke-width="0.8"/>
<line x1="482.3" y1="178.335" x2="685" y2="178.335" stroke="#f4f4f4" stroke-width="0.6"/>
<line x1="482.3" y1="170.98" x2="685" y2="170.98" stroke="#ececec" stroke-width="0.8"/>
<line x1="482.3" y1="163.625" x2="685" y2="163.625" stroke="#f4f4f4" stroke-width="0.6"/>
<line x1="482.3" y1="156.26999999999998" x2="685" y2="156.26999999999998" stroke="#ececec" stroke-width="0.8"/>
<line x1="482.3" y1="148.915" x2="685" y2="148.915" stroke="#f4f4f4" stroke-width="0.6"/>
<line x1="482.3" y1="141.56" x2="685" y2="141.56" stroke="#ececec" stroke-width="0.8"/>
<line x1="482.3" y1="134.20499999999998" x2="685" y2="134.20499999999998" stroke="#f4f4f4" stroke-width="0.6"/>
<line x1="482.3" y1="126.85" x2="685" y2="126.85" stroke="#ececec" stroke-width="0.8"/>
<line x1="482.3" y1="119.49499999999999" x2="685" y2="119.49499999999999" stroke="#f4f4f4" stroke-width="0.6"/>
<line x1="482.3" y1="112.13999999999999" x2="685" y2="112.13999999999999" stroke="#ececec" stroke-width="0.8"/>
<line x1="482.3" y1="104.785" x2="685" y2="104.785" stroke="#f4f4f4" stroke-width="0.6"/>
<line x1="482.3" y1="97.42999999999998" x2="685" y2="97.42999999999998" stroke="#ececec" stroke-width="0.8"/>
<line x1="482.3" y1="90.07499999999999" x2="685" y2="90.07499999999999" stroke="#f4f4f4" stroke-width="0.6"/>
<line x1="482.3" y1="82.71999999999998" x2="685" y2="82.71999999999998" stroke="#ececec" stroke-width="0.8"/>
<line x1="482.3" y1="75.365" x2="685" y2="75.365" stroke="#f4f4f4" stroke-width="0.6"/>
<line x1="482.3" y1="68.00999999999999" x2="685" y2="68.00999999999999" stroke="#ececec" stroke-width="0.8"/>
<line x1="482.3" y1="60.65499999999997" x2="685" y2="60.65499999999997" stroke="#f4f4f4" stroke-width="0.6"/>
<line x1="482.3" y1="53.29999999999998" x2="685" y2="53.29999999999998" stroke="#ececec" stroke-width="0.8"/>
<line x1="482.3" y1="45.94499999999999" x2="685" y2="45.94499999999999" stroke="#f4f4f4" stroke-width="0.6"/>
<text x="479.9" y="201.3" style="font-family:'Liberation Sans',sans-serif;font-size:5.2px;font-weight:normal" fill="#4b3dc4" text-anchor="end" dominant-baseline="central" stroke="#4b3dc4" stroke-width="0.2">0 %</text>
<text x="479.9" y="186.59" style="font-family:'Liberation Sans',sans-serif;font-size:5.2px;font-weight:normal" fill="#4b3dc4" text-anchor="end" dominant-baseline="central" stroke="#4b3dc4" stroke-width="0.2">10 %</text>
<text x="479.9" y="171.88" style="font-family:'Liberation Sans',sans-serif;font-size:5.2px;font-weight:normal" fill="#4b3dc4" text-anchor="end" dominant-baseline="central" stroke="#4b3dc4" stroke-width="0.2">20 %</text>
<text x="479.9" y="157.17" style="font-family:'Liberation Sans',sans-serif;font-size:5.2px;font-weight:normal" fill="#4b3dc4" text-anchor="end" dominant-baseline="central" stroke="#4b3dc4" stroke-width="0.2">30 %</text>
<text x="479.9" y="142.46" style="font-family:'Liberation Sans',sans-serif;font-size:5.2px;font-weight:normal" fill="#4b3dc4" text-anchor="end" dominant-baseline="central" stroke="#4b3dc4" stroke-width="0.2">40 %</text>
<text x="479.9" y="127.75" style="font-family:'Liberation Sans',sans-serif;font-size:5.2px;font-weight:normal" fill="#4b3dc4" text-anchor="end" dominant-baseline="central" stroke="#4b3dc4" stroke-width="0.2">50 %</text>
<text x="479.9" y="113.04" style="font-family:'Liberation Sans',sans-serif;font-size:5.2px;font-weight:normal" fill="#4b3dc4" text-anchor="end" dominant-baseline="central" stroke="#4b3dc4" stroke-width="0.2">60 %</text>
<text x="479.9" y="98.33" style="font-family:'Liberation Sans',sans-serif;font-size:5.2px;font-weight:normal" fill="#4b3dc4" text-anchor="end" dominant-baseline="central" stroke="#4b3dc4" stroke-width="0.2">70 %</text>
<text x="479.9" y="83.62" style="font-family:'Liberation Sans',sans-serif;font-size:5.2px;font-weight:normal" fill="#4b3dc4" text-anchor="end" dominant-baseline="central" stroke="#4b3dc4" stroke-width="0.2">80 %</text>
<text x="479.9" y="68.91" style="font-family:'Liberation Sans',sans-serif;font-size:5.2px;font-weight:normal" fill="#4b3dc4" text-anchor="end" dominant-baseline="central" stroke="#4b3dc4" stroke-width="0.2">90 %</text>
<text x="479.9" y="54.2" style="font-family:'Liberation Sans',sans-serif;font-size:5.2px;font-weight:normal" fill="#4b3dc4" text-anchor="end" dominant-baseline="central" stroke="#4b3dc4" stroke-width="0.2">100 %</text>
<text x="491.9" y="213.8" style="font-family:'Liberation Sans',sans-serif;font-size:5.5px;font-weight:normal" fill="#4b3dc4" text-anchor="middle" dominant-baseline="central" stroke="#4b3dc4" stroke-width="0.15">0.00</text>
<text x="537.675" y="213.8" style="font-family:'Liberation Sans',sans-serif;font-size:5.5px;font-weight:normal" fill="#4b3dc4" text-anchor="middle" dominant-baseline="central" stroke="#4b3dc4" stroke-width="0.15">0.25</text>
<text x="583.45" y="213.8" style="font-family:'Liberation Sans',sans-serif;font-size:5.5px;font-weight:normal" fill="#4b3dc4" text-anchor="middle" dominant-baseline="central" stroke="#4b3dc4" stroke-width="0.15">0.50</text>
<text x="629.225" y="213.8" style="font-family:'Liberation Sans',sans-serif;font-size:5.5px;font-weight:normal" fill="#4b3dc4" text-anchor="middle" dominant-baseline="central" stroke="#4b3dc4" stroke-width="0.15">0.75</text>
<text x="675.0" y="213.8" style="font-family:'Liberation Sans',sans-serif;font-size:5.5px;font-weight:normal" fill="#4b3dc4" text-anchor="middle" dominant-baseline="central" stroke="#4b3dc4" stroke-width="0.15">1.00</text>
<text x="583.0" y="221.7" style="font-family:'Liberation Sans',sans-serif;font-size:6.1px;font-weight:normal" fill="#4b3dc4" text-anchor="middle" dominant-baseline="central" stroke="#4b3dc4" stroke-width="0.1">|residual|</text>
<polyline points="482.30,53.30 516.50,53.30 516.50,94.60 531.80,94.60 531.80,96.80 556.10,96.80 556.10,122.40 560.50,122.40 560.50,137.80 571.50,137.80 571.50,147.30 595.60,147.30 595.60,155.40 606.60,155.40 606.60,163.40 610.30,163.40 610.30,183.90 634.60,183.90 634.60,186.30 649.20,186.30 649.20,200.10 685.00,200.10" fill="none" stroke="#4a70c8" stroke-width="0.8" stroke-linejoin="round"/>
<line x1="516.5" y1="53.8" x2="516.5" y2="94.6" stroke="#a9c0ea" stroke-width="0.9"/>
<polyline points="482.30,53.30 491.40,53.30 491.40,80.80 522.30,80.80 522.30,87.30 528.20,87.30 528.20,113.60 552.40,113.60 552.40,122.40 564.20,122.40 564.20,149.50 583.20,149.50 583.20,156.60 601.50,156.60 601.50,174.40 613.20,174.40 613.20,180.30 638.20,180.30 638.20,195.80 674.80,197.70 674.80,200.10 685.00,200.10" fill="none" stroke="#ea6a84" stroke-width="0.8" stroke-linejoin="round"/>
<polyline points="482.30,53.30 492.20,54.10 493.20,63.40 495.20,68.50 498.30,71.60 500.40,75.70 505.50,88.00 509.60,91.00 512.70,96.20 515.70,105.40 518.80,110.50 525.00,120.50 533.20,137.90 543.40,147.10 551.60,156.40 558.80,159.40 566.00,163.50 574.20,170.00 583.90,173.00 591.20,175.90 598.60,180.30 605.90,184.70 616.10,189.10 626.40,194.90 635.20,195.40 640.00,196.40 660.00,199.20 675.00,200.40 685.00,200.40" fill="none" stroke="#5f84d2" stroke-width="0.8" stroke-linejoin="round"/>
<polyline points="482.30,53.30 491.70,54.10 493.20,63.40 496.30,71.60 500.40,80.80 505.50,89.00 512.70,95.10 518.80,97.20 525.00,98.20 529.10,100.00 538.30,112.30 547.50,120.50 555.70,129.70 566.00,138.90 576.20,148.20 586.50,157.40 595.00,162.50 613.00,179.00 628.00,190.00 640.00,196.00 685.00,200.40" fill="none" stroke="#f2a890" stroke-width="0.8" stroke-linejoin="round"/>
<polyline points="482.30,53.30 492.40,53.80 496.50,63.00 508.00,77.00 519.00,90.00 526.00,101.00 535.50,112.50 546.00,121.50 556.00,131.50 566.00,142.50 576.00,150.50 595.00,166.00 613.00,181.00 628.00,191.80 640.00,196.80 685.00,200.40" fill="none" stroke="#94e2bc" stroke-width="0.8" stroke-linejoin="round"/>
<polyline points="482.30,53.30 492.40,53.80 497.50,65.40 509.20,78.60 520.00,92.00 525.00,102.00 535.20,113.30 545.50,122.50 555.70,132.80 566.00,144.10 576.20,151.20 595.00,166.60 613.00,181.00 628.00,192.00 640.00,196.80 685.00,200.40" fill="none" stroke="#5cc6c0" stroke-width="0.8" stroke-linejoin="round"/>
<polyline points="482.30,53.30 492.40,53.80 501.90,74.20 512.10,84.40 525.30,96.10 528.10,100.00 535.20,111.30 545.50,119.50 551.60,124.60 557.80,127.70 566.00,135.90 572.10,144.10 579.30,149.20 586.50,156.40 595.00,165.60 613.00,180.50 628.00,191.00 640.00,196.40 660.00,199.50 685.00,200.40" fill="none" stroke="#b25cba" stroke-width="0.8" stroke-linejoin="round"/>
<polyline points="482.30,53.30 497.20,53.80 498.20,56.70 506.30,66.40 515.70,79.80 523.90,92.10 528.10,103.10 535.20,115.40 540.40,120.50 545.50,125.60 551.60,133.80 555.70,135.90 565.00,144.10 571.10,148.20 581.40,155.30 595.00,164.60 613.20,180.00 627.80,191.50 640.00,197.00 655.00,199.50 685.00,200.40" fill="none" stroke="#4a3cc8" stroke-width="0.8" stroke-linejoin="round"/>
<text x="9.3" y="236.0" style="font-family:'Liberation Serif',serif;font-size:14px;font-weight:normal" fill="#111" text-anchor="middle" dominant-baseline="central">D</text>
<line x1="91.5" y1="228.3" x2="91.5" y2="355.3" stroke="#555" stroke-width="0.7"/>
<line x1="89.5" y1="355.0" x2="91.5" y2="355.0" stroke="#555" stroke-width="0.6"/>
<text x="88.9" y="355.9" style="font-family:'Liberation Sans',sans-serif;font-size:5.6px;font-weight:normal" fill="#444" text-anchor="end" dominant-baseline="central" stroke="#444" stroke-width="0.05">0</text>
<line x1="89.5" y1="318.4" x2="91.5" y2="318.4" stroke="#555" stroke-width="0.6"/>
<text x="88.9" y="319.3" style="font-family:'Liberation Sans',sans-serif;font-size:5.6px;font-weight:normal" fill="#444" text-anchor="end" dominant-baseline="central" stroke="#444" stroke-width="0.05">1</text>
<line x1="89.5" y1="281.8" x2="91.5" y2="281.8" stroke="#555" stroke-width="0.6"/>
<text x="88.9" y="282.7" style="font-family:'Liberation Sans',sans-serif;font-size:5.6px;font-weight:normal" fill="#444" text-anchor="end" dominant-baseline="central" stroke="#444" stroke-width="0.05">2</text>
<line x1="89.5" y1="245.2" x2="91.5" y2="245.2" stroke="#555" stroke-width="0.6"/>
<text x="88.9" y="246.1" style="font-family:'Liberation Sans',sans-serif;font-size:5.6px;font-weight:normal" fill="#444" text-anchor="end" dominant-baseline="central" stroke="#444" stroke-width="0.05">3</text>
<text x="66.5" y="294" style="font-family:'Liberation Sans',sans-serif;font-size:6.2px;font-weight:normal" fill="#111" text-anchor="middle" dominant-baseline="central" transform="rotate(-90 66.5 294)" stroke="#111" stroke-width="0.15">Intersection size</text>
<rect x="91.5" y="364.39" width="197.1" height="8.77" fill="#f5f7f0" stroke="none" stroke-width="1" rx="0"/>
<rect x="91.5" y="381.93" width="197.1" height="8.77" fill="#f5f7f0" stroke="none" stroke-width="1" rx="0"/>
<rect x="91.5" y="399.47" width="197.1" height="8.77" fill="#f5f7f0" stroke="none" stroke-width="1" rx="0"/>
<rect x="91.5" y="417.01" width="197.1" height="8.77" fill="#f5f7f0" stroke="none" stroke-width="1" rx="0"/>
<rect x="99.7" y="245.2" width="7.0" height="109.80000000000001" fill="#5dbcb4" stroke="none" stroke-width="1" rx="0"/>
<text x="103.4" y="241.5" style="font-family:'Liberation Sans',sans-serif;font-size:5.0px;font-weight:normal" fill="#333" text-anchor="middle" dominant-baseline="central" stroke="#333" stroke-width="0.05">3</text>
<rect x="111.33" y="281.8" width="7.0" height="73.19999999999999" fill="#000" stroke="none" stroke-width="1" rx="0"/>
<text x="115.03" y="278.1" style="font-family:'Liberation Sans',sans-serif;font-size:5.0px;font-weight:normal" fill="#333" text-anchor="middle" dominant-baseline="central" stroke="#333" stroke-width="0.05">2</text>
<rect x="122.96000000000001" y="318.4" width="7.0" height="36.60000000000002" fill="#000" stroke="none" stroke-width="1" rx="0"/>
<text x="126.66000000000001" y="314.7" style="font-family:'Liberation Sans',sans-serif;font-size:5.0px;font-weight:normal" fill="#333" text-anchor="middle" dominant-baseline="central" stroke="#333" stroke-width="0.05">1</text>
<rect x="134.59" y="318.4" width="7.0" height="36.60000000000002" fill="#000" stroke="none" stroke-width="1" rx="0"/>
<text x="138.29" y="314.7" style="font-family:'Liberation Sans',sans-serif;font-size:5.0px;font-weight:normal" fill="#333" text-anchor="middle" dominant-baseline="central" stroke="#333" stroke-width="0.05">1</text>
<rect x="146.22" y="318.4" width="7.0" height="36.60000000000002" fill="#000" stroke="none" stroke-width="1" rx="0"/>
<text x="149.92" y="314.7" style="font-family:'Liberation Sans',sans-serif;font-size:5.0px;font-weight:normal" fill="#333" text-anchor="middle" dominant-baseline="central" stroke="#333" stroke-width="0.05">1</text>
<rect x="157.85000000000002" y="318.4" width="7.0" height="36.60000000000002" fill="#000" stroke="none" stroke-width="1" rx="0"/>
<text x="161.55" y="314.7" style="font-family:'Liberation Sans',sans-serif;font-size:5.0px;font-weight:normal" fill="#333" text-anchor="middle" dominant-baseline="central" stroke="#333" stroke-width="0.05">1</text>
<rect x="169.48000000000002" y="318.4" width="7.0" height="36.60000000000002" fill="#000" stroke="none" stroke-width="1" rx="0"/>
<text x="173.18" y="314.7" style="font-family:'Liberation Sans',sans-serif;font-size:5.0px;font-weight:normal" fill="#333" text-anchor="middle" dominant-baseline="central" stroke="#333" stroke-width="0.05">1</text>
<rect x="181.11" y="318.4" width="7.0" height="36.60000000000002" fill="#000" stroke="none" stroke-width="1" rx="0"/>
<text x="184.81" y="314.7" style="font-family:'Liberation Sans',sans-serif;font-size:5.0px;font-weight:normal" fill="#333" text-anchor="middle" dominant-baseline="central" stroke="#333" stroke-width="0.05">1</text>
<rect x="192.74" y="318.4" width="7.0" height="36.60000000000002" fill="#000" stroke="none" stroke-width="1" rx="0"/>
<text x="196.44" y="314.7" style="font-family:'Liberation Sans',sans-serif;font-size:5.0px;font-weight:normal" fill="#333" text-anchor="middle" dominant-baseline="central" stroke="#333" stroke-width="0.05">1</text>
<rect x="204.37" y="318.4" width="7.0" height="36.60000000000002" fill="#000" stroke="none" stroke-width="1" rx="0"/>
<text x="208.07" y="314.7" style="font-family:'Liberation Sans',sans-serif;font-size:5.0px;font-weight:normal" fill="#333" text-anchor="middle" dominant-baseline="central" stroke="#333" stroke-width="0.05">1</text>
<rect x="216.0" y="318.4" width="7.0" height="36.60000000000002" fill="#000" stroke="none" stroke-width="1" rx="0"/>
<text x="219.7" y="314.7" style="font-family:'Liberation Sans',sans-serif;font-size:5.0px;font-weight:normal" fill="#333" text-anchor="middle" dominant-baseline="central" stroke="#333" stroke-width="0.05">1</text>
<rect x="227.63" y="318.4" width="7.0" height="36.60000000000002" fill="#000" stroke="none" stroke-width="1" rx="0"/>
<text x="231.32999999999998" y="314.7" style="font-family:'Liberation Sans',sans-serif;font-size:5.0px;font-weight:normal" fill="#333" text-anchor="middle" dominant-baseline="central" stroke="#333" stroke-width="0.05">1</text>
<rect x="239.26" y="318.4" width="7.0" height="36.60000000000002" fill="#000" stroke="none" stroke-width="1" rx="0"/>
<text x="242.95999999999998" y="314.7" style="font-family:'Liberation Sans',sans-serif;font-size:5.0px;font-weight:normal" fill="#333" text-anchor="middle" dominant-baseline="central" stroke="#333" stroke-width="0.05">1</text>
<rect x="250.89" y="318.4" width="7.0" height="36.60000000000002" fill="#000" stroke="none" stroke-width="1" rx="0"/>
<text x="254.58999999999997" y="314.7" style="font-family:'Liberation Sans',sans-serif;font-size:5.0px;font-weight:normal" fill="#333" text-anchor="middle" dominant-baseline="central" stroke="#333" stroke-width="0.05">1</text>
<rect x="262.52000000000004" y="318.4" width="7.0" height="36.60000000000002" fill="#000" stroke="none" stroke-width="1" rx="0"/>
<text x="266.22" y="314.7" style="font-family:'Liberation Sans',sans-serif;font-size:5.0px;font-weight:normal" fill="#333" text-anchor="middle" dominant-baseline="central" stroke="#333" stroke-width="0.05">1</text>
<rect x="274.15000000000003" y="318.4" width="7.0" height="36.60000000000002" fill="#000" stroke="none" stroke-width="1" rx="0"/>
<text x="277.85" y="314.7" style="font-family:'Liberation Sans',sans-serif;font-size:5.0px;font-weight:normal" fill="#333" text-anchor="middle" dominant-baseline="central" stroke="#333" stroke-width="0.05">1</text>
<line x1="91.5" y1="355.5" x2="288.6" y2="355.5" stroke="#888" stroke-width="0.7"/>
<text x="89.6" y="360.9" style="font-family:'Liberation Sans',sans-serif;font-size:5.8px;font-weight:normal" fill="#333" text-anchor="end" dominant-baseline="central" stroke="#333" stroke-width="0.1">SVM</text>
<rect x="5.9" y="358.0" width="59.1" height="4.0" fill="#b4c8d6" stroke="none" stroke-width="1" rx="0"/>
<text x="89.6" y="369.67" style="font-family:'Liberation Sans',sans-serif;font-size:5.8px;font-weight:normal" fill="#333" text-anchor="end" dominant-baseline="central" stroke="#333" stroke-width="0.1">RF</text>
<rect x="5.9" y="366.77" width="59.1" height="4.0" fill="#d6e9c6" stroke="none" stroke-width="1" rx="0"/>
<text x="89.6" y="378.44" style="font-family:'Liberation Sans',sans-serif;font-size:5.8px;font-weight:normal" fill="#333" text-anchor="end" dominant-baseline="central" stroke="#333" stroke-width="0.1">NNET</text>
<rect x="5.9" y="375.54" width="59.1" height="4.0" fill="#a2c9aa" stroke="none" stroke-width="1" rx="0"/>
<text x="89.6" y="387.21" style="font-family:'Liberation Sans',sans-serif;font-size:5.8px;font-weight:normal" fill="#333" text-anchor="end" dominant-baseline="central" stroke="#333" stroke-width="0.1">LASSO</text>
<rect x="5.9" y="384.31" width="59.1" height="4.0" fill="#5b79a9" stroke="none" stroke-width="1" rx="0"/>
<text x="89.6" y="395.98" style="font-family:'Liberation Sans',sans-serif;font-size:5.8px;font-weight:normal" fill="#333" text-anchor="end" dominant-baseline="central" stroke="#333" stroke-width="0.1">KNN</text>
<rect x="5.9" y="393.08" width="59.1" height="4.0" fill="#8c79b9" stroke="none" stroke-width="1" rx="0"/>
<text x="89.6" y="404.75" style="font-family:'Liberation Sans',sans-serif;font-size:5.8px;font-weight:normal" fill="#333" text-anchor="end" dominant-baseline="central" stroke="#333" stroke-width="0.1">GLM</text>
<rect x="5.9" y="401.85" width="59.1" height="4.0" fill="#a96aa9" stroke="none" stroke-width="1" rx="0"/>
<text x="89.6" y="413.52" style="font-family:'Liberation Sans',sans-serif;font-size:5.8px;font-weight:normal" fill="#333" text-anchor="end" dominant-baseline="central" stroke="#333" stroke-width="0.1">GBM</text>
<rect x="5.9" y="410.62" width="59.1" height="4.0" fill="#d9a999" stroke="none" stroke-width="1" rx="0"/>
<text x="89.6" y="422.29" style="font-family:'Liberation Sans',sans-serif;font-size:5.8px;font-weight:normal" fill="#333" text-anchor="end" dominant-baseline="central" stroke="#333" stroke-width="0.1">DT</text>
<rect x="5.9" y="419.39" width="59.1" height="4.0" fill="#e1e8cd" stroke="none" stroke-width="1" rx="0"/>
<line x1="5.9" y1="425.3" x2="65.0" y2="425.3" stroke="#555" stroke-width="0.6"/>
<line x1="5.9" y1="425.3" x2="5.9" y2="426.8" stroke="#555" stroke-width="0.5"/>
<text x="5.9" y="431.7" style="font-family:'Liberation Sans',sans-serif;font-size:5.5px;font-weight:normal" fill="#333" text-anchor="middle" dominant-baseline="central" stroke="#333" stroke-width="0.2">10.0</text>
<line x1="20.675" y1="425.3" x2="20.675" y2="426.8" stroke="#555" stroke-width="0.5"/>
<text x="20.675" y="431.7" style="font-family:'Liberation Sans',sans-serif;font-size:5.5px;font-weight:normal" fill="#333" text-anchor="middle" dominant-baseline="central" stroke="#333" stroke-width="0.2">7.5</text>
<line x1="35.45" y1="425.3" x2="35.45" y2="426.8" stroke="#555" stroke-width="0.5"/>
<text x="35.45" y="431.7" style="font-family:'Liberation Sans',sans-serif;font-size:5.5px;font-weight:normal" fill="#333" text-anchor="middle" dominant-baseline="central" stroke="#333" stroke-width="0.2">5.0</text>
<line x1="50.225" y1="425.3" x2="50.225" y2="426.8" stroke="#555" stroke-width="0.5"/>
<text x="50.225" y="431.7" style="font-family:'Liberation Sans',sans-serif;font-size:5.5px;font-weight:normal" fill="#333" text-anchor="middle" dominant-baseline="central" stroke="#333" stroke-width="0.2">2.5</text>
<line x1="65.0" y1="425.3" x2="65.0" y2="426.8" stroke="#555" stroke-width="0.5"/>
<text x="65.0" y="431.7" style="font-family:'Liberation Sans',sans-serif;font-size:5.5px;font-weight:normal" fill="#333" text-anchor="middle" dominant-baseline="central" stroke="#333" stroke-width="0.2">0.0</text>
<text x="35.2" y="438.5" style="font-family:'Liberation Sans',sans-serif;font-size:6.0px;font-weight:normal" fill="#222" text-anchor="middle" dominant-baseline="central" stroke="#222" stroke-width="0.2">Set size</text>
<line x1="103.2" y1="360.0" x2="103.2" y2="421.39" stroke="#5dbcb4" stroke-width="1.1"/>
<circle cx="103.2" cy="360.0" r="2.0" fill="#5dbcb4"/>
<circle cx="103.2" cy="368.77" r="2.0" fill="#5dbcb4"/>
<circle cx="103.2" cy="377.54" r="2.0" fill="#5dbcb4"/>
<circle cx="103.2" cy="386.31" r="2.0" fill="#5dbcb4"/>
<circle cx="103.2" cy="395.08" r="2.0" fill="#5dbcb4"/>
<circle cx="103.2" cy="403.85" r="2.0" fill="#5dbcb4"/>
<circle cx="103.2" cy="412.62" r="2.0" fill="#5dbcb4"/>
<circle cx="103.2" cy="421.39" r="2.0" fill="#5dbcb4"/>
<circle cx="114.83" cy="360.0" r="1.75" fill="#e3e3e3"/>
<circle cx="114.83" cy="368.77" r="1.75" fill="#e3e3e3"/>
<circle cx="114.83" cy="377.54" r="1.75" fill="#e3e3e3"/>
<circle cx="114.83" cy="386.31" r="1.75" fill="#e3e3e3"/>
<circle cx="114.83" cy="403.85" r="1.75" fill="#e3e3e3"/>
<circle cx="114.83" cy="412.62" r="1.75" fill="#e3e3e3"/>
<line x1="114.83" y1="395.08" x2="114.83" y2="421.39" stroke="#000" stroke-width="1.1"/>
<circle cx="114.83" cy="395.08" r="2.0" fill="#000"/>
<circle cx="114.83" cy="421.39" r="2.0" fill="#000"/>
<circle cx="126.46000000000001" cy="368.77" r="1.75" fill="#e3e3e3"/>
<circle cx="126.46000000000001" cy="377.54" r="1.75" fill="#e3e3e3"/>
<circle cx="126.46000000000001" cy="386.31" r="1.75" fill="#e3e3e3"/>
<circle cx="126.46000000000001" cy="395.08" r="1.75" fill="#e3e3e3"/>
<circle cx="126.46000000000001" cy="403.85" r="1.75" fill="#e3e3e3"/>
<circle cx="126.46000000000001" cy="412.62" r="1.75" fill="#e3e3e3"/>
<circle cx="126.46000000000001" cy="421.39" r="1.75" fill="#e3e3e3"/>
<circle cx="126.46000000000001" cy="360.0" r="2.0" fill="#000"/>
<circle cx="138.09" cy="360.0" r="1.75" fill="#e3e3e3"/>
<circle cx="138.09" cy="377.54" r="1.75" fill="#e3e3e3"/>
<circle cx="138.09" cy="386.31" r="1.75" fill="#e3e3e3"/>
<circle cx="138.09" cy="395.08" r="1.75" fill="#e3e3e3"/>
<circle cx="138.09" cy="403.85" r="1.75" fill="#e3e3e3"/>
<circle cx="138.09" cy="412.62" r="1.75" fill="#e3e3e3"/>
<circle cx="138.09" cy="421.39" r="1.75" fill="#e3e3e3"/>
<circle cx="138.09" cy="368.77" r="2.0" fill="#000"/>
<circle cx="149.72" cy="360.0" r="1.75" fill="#e3e3e3"/>
<circle cx="149.72" cy="368.77" r="1.75" fill="#e3e3e3"/>
<circle cx="149.72" cy="386.31" r="1.75" fill="#e3e3e3"/>
<circle cx="149.72" cy="395.08" r="1.75" fill="#e3e3e3"/>
<circle cx="149.72" cy="403.85" r="1.75" fill="#e3e3e3"/>
<circle cx="149.72" cy="412.62" r="1.75" fill="#e3e3e3"/>
<circle cx="149.72" cy="421.39" r="1.75" fill="#e3e3e3"/>
<circle cx="149.72" cy="377.54" r="2.0" fill="#000"/>
<circle cx="161.35000000000002" cy="360.0" r="1.75" fill="#e3e3e3"/>
<circle cx="161.35000000000002" cy="368.77" r="1.75" fill="#e3e3e3"/>
<circle cx="161.35000000000002" cy="377.54" r="1.75" fill="#e3e3e3"/>
<circle cx="161.35000000000002" cy="386.31" r="1.75" fill="#e3e3e3"/>
<circle cx="161.35000000000002" cy="403.85" r="1.75" fill="#e3e3e3"/>
<circle cx="161.35000000000002" cy="412.62" r="1.75" fill="#e3e3e3"/>
<circle cx="161.35000000000002" cy="421.39" r="1.75" fill="#e3e3e3"/>
<circle cx="161.35000000000002" cy="395.08" r="2.0" fill="#000"/>
<circle cx="172.98000000000002" cy="412.62" r="1.75" fill="#e3e3e3"/>
<circle cx="172.98000000000002" cy="421.39" r="1.75" fill="#e3e3e3"/>
<line x1="172.98000000000002" y1="360.0" x2="172.98000000000002" y2="403.85" stroke="#000" stroke-width="1.1"/>
<circle cx="172.98000000000002" cy="360.0" r="2.0" fill="#000"/>
<circle cx="172.98000000000002" cy="368.77" r="2.0" fill="#000"/>
<circle cx="172.98000000000002" cy="377.54" r="2.0" fill="#000"/>
<circle cx="172.98000000000002" cy="386.31" r="2.0" fill="#000"/>
<circle cx="172.98000000000002" cy="395.08" r="2.0" fill="#000"/>
<circle cx="172.98000000000002" cy="403.85" r="2.0" fill="#000"/>
<circle cx="184.61" cy="360.0" r="1.75" fill="#e3e3e3"/>
<circle cx="184.61" cy="377.54" r="1.75" fill="#e3e3e3"/>
<circle cx="184.61" cy="386.31" r="1.75" fill="#e3e3e3"/>
<circle cx="184.61" cy="403.85" r="1.75" fill="#e3e3e3"/>
<circle cx="184.61" cy="421.39" r="1.75" fill="#e3e3e3"/>
<line x1="184.61" y1="368.77" x2="184.61" y2="412.62" stroke="#000" stroke-width="1.1"/>
<circle cx="184.61" cy="368.77" r="2.0" fill="#000"/>
<circle cx="184.61" cy="395.08" r="2.0" fill="#000"/>
<circle cx="184.61" cy="412.62" r="2.0" fill="#000"/>
<circle cx="196.24" cy="360.0" r="1.75" fill="#e3e3e3"/>
<circle cx="196.24" cy="368.77" r="1.75" fill="#e3e3e3"/>
<circle cx="196.24" cy="377.54" r="1.75" fill="#e3e3e3"/>
<circle cx="196.24" cy="395.08" r="1.75" fill="#e3e3e3"/>
<circle cx="196.24" cy="421.39" r="1.75" fill="#e3e3e3"/>
<line x1="196.24" y1="386.31" x2="196.24" y2="412.62" stroke="#000" stroke-width="1.1"/>
<circle cx="196.24" cy="386.31" r="2.0" fill="#000"/>
<circle cx="196.24" cy="403.85" r="2.0" fill="#000"/>
<circle cx="196.24" cy="412.62" r="2.0" fill="#000"/>
<circle cx="207.87" cy="368.77" r="1.75" fill="#e3e3e3"/>
<circle cx="207.87" cy="395.08" r="1.75" fill="#e3e3e3"/>
<circle cx="207.87" cy="421.39" r="1.75" fill="#e3e3e3"/>
<line x1="207.87" y1="360.0" x2="207.87" y2="412.62" stroke="#000" stroke-width="1.1"/>
<circle cx="207.87" cy="360.0" r="2.0" fill="#000"/>
<circle cx="207.87" cy="377.54" r="2.0" fill="#000"/>
<circle cx="207.87" cy="386.31" r="2.0" fill="#000"/>
<circle cx="207.87" cy="403.85" r="2.0" fill="#000"/>
<circle cx="207.87" cy="412.62" r="2.0" fill="#000"/>
<circle cx="219.5" cy="421.39" r="1.75" fill="#e3e3e3"/>
<line x1="219.5" y1="360.0" x2="219.5" y2="412.62" stroke="#000" stroke-width="1.1"/>
<circle cx="219.5" cy="360.0" r="2.0" fill="#000"/>
<circle cx="219.5" cy="368.77" r="2.0" fill="#000"/>
<circle cx="219.5" cy="377.54" r="2.0" fill="#000"/>
<circle cx="219.5" cy="386.31" r="2.0" fill="#000"/>
<circle cx="219.5" cy="395.08" r="2.0" fill="#000"/>
<circle cx="219.5" cy="403.85" r="2.0" fill="#000"/>
<circle cx="219.5" cy="412.62" r="2.0" fill="#000"/>
<circle cx="231.13" cy="368.77" r="1.75" fill="#e3e3e3"/>
<circle cx="231.13" cy="386.31" r="1.75" fill="#e3e3e3"/>
<circle cx="231.13" cy="395.08" r="1.75" fill="#e3e3e3"/>
<circle cx="231.13" cy="403.85" r="1.75" fill="#e3e3e3"/>
<circle cx="231.13" cy="412.62" r="1.75" fill="#e3e3e3"/>
<line x1="231.13" y1="360.0" x2="231.13" y2="421.39" stroke="#000" stroke-width="1.1"/>
<circle cx="231.13" cy="360.0" r="2.0" fill="#000"/>
<circle cx="231.13" cy="377.54" r="2.0" fill="#000"/>
<circle cx="231.13" cy="421.39" r="2.0" fill="#000"/>
<circle cx="242.76" cy="360.0" r="1.75" fill="#e3e3e3"/>
<circle cx="242.76" cy="368.77" r="1.75" fill="#e3e3e3"/>
<circle cx="242.76" cy="395.08" r="1.75" fill="#e3e3e3"/>
<circle cx="242.76" cy="412.62" r="1.75" fill="#e3e3e3"/>
<line x1="242.76" y1="377.54" x2="242.76" y2="421.39" stroke="#000" stroke-width="1.1"/>
<circle cx="242.76" cy="377.54" r="2.0" fill="#000"/>
<circle cx="242.76" cy="386.31" r="2.0" fill="#000"/>
<circle cx="242.76" cy="403.85" r="2.0" fill="#000"/>
<circle cx="242.76" cy="421.39" r="2.0" fill="#000"/>
<circle cx="254.39" cy="360.0" r="1.75" fill="#e3e3e3"/>
<circle cx="254.39" cy="377.54" r="1.75" fill="#e3e3e3"/>
<circle cx="254.39" cy="386.31" r="1.75" fill="#e3e3e3"/>
<circle cx="254.39" cy="403.85" r="1.75" fill="#e3e3e3"/>
<line x1="254.39" y1="368.77" x2="254.39" y2="421.39" stroke="#000" stroke-width="1.1"/>
<circle cx="254.39" cy="368.77" r="2.0" fill="#000"/>
<circle cx="254.39" cy="395.08" r="2.0" fill="#000"/>
<circle cx="254.39" cy="412.62" r="2.0" fill="#000"/>
<circle cx="254.39" cy="421.39" r="2.0" fill="#000"/>
<circle cx="266.02000000000004" cy="377.54" r="1.75" fill="#e3e3e3"/>
<circle cx="266.02000000000004" cy="395.08" r="1.75" fill="#e3e3e3"/>
<line x1="266.02000000000004" y1="360.0" x2="266.02000000000004" y2="421.39" stroke="#000" stroke-width="1.1"/>
<circle cx="266.02000000000004" cy="360.0" r="2.0" fill="#000"/>
<circle cx="266.02000000000004" cy="368.77" r="2.0" fill="#000"/>
<circle cx="266.02000000000004" cy="386.31" r="2.0" fill="#000"/>
<circle cx="266.02000000000004" cy="403.85" r="2.0" fill="#000"/>
<circle cx="266.02000000000004" cy="412.62" r="2.0" fill="#000"/>
<circle cx="266.02000000000004" cy="421.39" r="2.0" fill="#000"/>
<circle cx="277.65000000000003" cy="395.08" r="1.75" fill="#e3e3e3"/>
<line x1="277.65000000000003" y1="360.0" x2="277.65000000000003" y2="421.39" stroke="#000" stroke-width="1.1"/>
<circle cx="277.65000000000003" cy="360.0" r="2.0" fill="#000"/>
<circle cx="277.65000000000003" cy="368.77" r="2.0" fill="#000"/>
<circle cx="277.65000000000003" cy="377.54" r="2.0" fill="#000"/>
<circle cx="277.65000000000003" cy="386.31" r="2.0" fill="#000"/>
<circle cx="277.65000000000003" cy="403.85" r="2.0" fill="#000"/>
<circle cx="277.65000000000003" cy="412.62" r="2.0" fill="#000"/>
<circle cx="277.65000000000003" cy="421.39" r="2.0" fill="#000"/>
<text x="286.0" y="241.0" style="font-family:'Liberation Serif',serif;font-size:14px;font-weight:normal" fill="#111" text-anchor="middle" dominant-baseline="central">E</text>
<text x="313.8" y="238.5" style="font-family:'Liberation Sans',sans-serif;font-size:11.9px;font-weight:normal" fill="#333" text-anchor="start" dominant-baseline="central" stroke="#333" stroke-width="0.05">Dynamic Nomogram</text>
<rect x="313.4" y="249.6" width="114.4" height="176.6" fill="#f5f5f5" stroke="#e3e3e3" stroke-width="0.7" rx="2"/>
<text x="321.6" y="262.0" style="font-family:'Liberation Sans',sans-serif;font-size:5.6px;font-weight:bold" fill="#333" text-anchor="start" dominant-baseline="central" stroke="#333" stroke-width="0.12">BCLC</text>
<rect x="321.6" y="267.5" width="97.6" height="12.8" fill="#fff" stroke="#cccccc" stroke-width="0.6" rx="1.5"/>
<text x="326.5" y="275.1" style="font-family:'Liberation Sans',sans-serif;font-size:5.6px;font-weight:normal" fill="#444" text-anchor="start" dominant-baseline="central" stroke="#444" stroke-width="0.12">A</text>
<path d="M409.5,272.6 L413,272.6 L411.25,274.6 Z" fill="#333"/>
<text x="321.6" y="291.7" style="font-family:'Liberation Sans',sans-serif;font-size:5.6px;font-weight:bold" fill="#333" text-anchor="start" dominant-baseline="central" stroke="#333" stroke-width="0.12">Size</text>
<rect x="321.6" y="296.7" width="97.6" height="12.9" fill="#fff" stroke="#cccccc" stroke-width="0.6" rx="1.5"/>
<text x="326.5" y="304.4" style="font-family:'Liberation Sans',sans-serif;font-size:5.6px;font-weight:normal" fill="#444" text-anchor="start" dominant-baseline="central" stroke="#444" stroke-width="0.12">&lt;3</text>
<path d="M409.5,302.0 L413,302.0 L411.25,304.0 Z" fill="#333"/>
<text x="321.6" y="321.3" style="font-family:'Liberation Sans',sans-serif;font-size:5.6px;font-weight:bold" fill="#333" text-anchor="start" dominant-baseline="central" stroke="#333" stroke-width="0.12">HSP90α</text>
<rect x="321.4" y="326.3" width="6.4" height="5.0" fill="#e1e1e1" stroke="none" stroke-width="1" rx="0.8"/>
<text x="324.6" y="329.2" style="font-family:'Liberation Sans',sans-serif;font-size:4.0px;font-weight:normal" fill="#333" text-anchor="middle" dominant-baseline="central" stroke="#333" stroke-width="0.12">14</text>
<rect x="411.3" y="326.3" width="8.7" height="5.0" fill="#e1e1e1" stroke="none" stroke-width="1" rx="0.8"/>
<text x="415.65" y="329.2" style="font-family:'Liberation Sans',sans-serif;font-size:4.0px;font-weight:normal" fill="#333" text-anchor="middle" dominant-baseline="central" stroke="#333" stroke-width="0.12">607</text>
<rect x="349.2" y="326.2" width="9.6" height="6.5" fill="#428bca" stroke="none" stroke-width="1" rx="1.3"/>
<path d="M352.6,332.6 L354,334 L355.4,332.6 Z" fill="#428bca"/>
<text x="354.0" y="329.7" style="font-family:'Liberation Sans',sans-serif;font-size:4.0px;font-weight:normal" fill="#fff" text-anchor="middle" dominant-baseline="central" stroke="#fff" stroke-width="0.12">290</text>
<rect x="321.4" y="336.0" width="98.3" height="2.6" fill="#e4e4e4" stroke="#d6d6d6" stroke-width="0.3" rx="1.3"/>
<rect x="321.4" y="336.0" width="32.1" height="2.6" fill="#428bca" stroke="none" stroke-width="1" rx="1.3"/>
<circle cx="353.5" cy="337.2" r="4.0" fill="#dedede" stroke="#c4c4c4" stroke-width="0.5"/>
<line x1="325.4" y1="339.2" x2="325.4" y2="342.4" stroke="#9a9a9a" stroke-width="0.4"/>
<line x1="327.66249999999997" y1="339.2" x2="327.66249999999997" y2="340.6" stroke="#bbbbbb" stroke-width="0.4"/>
<line x1="329.92499999999995" y1="339.2" x2="329.92499999999995" y2="340.6" stroke="#bbbbbb" stroke-width="0.4"/>
<line x1="332.1875" y1="339.2" x2="332.1875" y2="340.6" stroke="#bbbbbb" stroke-width="0.4"/>
<line x1="334.45" y1="339.2" x2="334.45" y2="342.4" stroke="#9a9a9a" stroke-width="0.4"/>
<line x1="336.7125" y1="339.2" x2="336.7125" y2="340.6" stroke="#bbbbbb" stroke-width="0.4"/>
<line x1="338.97499999999997" y1="339.2" x2="338.97499999999997" y2="340.6" stroke="#bbbbbb" stroke-width="0.4"/>
<line x1="341.23749999999995" y1="339.2" x2="341.23749999999995" y2="340.6" stroke="#bbbbbb" stroke-width="0.4"/>
<line x1="343.5" y1="339.2" x2="343.5" y2="342.4" stroke="#9a9a9a" stroke-width="0.4"/>
<line x1="345.7625" y1="339.2" x2="345.7625" y2="340.6" stroke="#bbbbbb" stroke-width="0.4"/>
<line x1="348.025" y1="339.2" x2="348.025" y2="340.6" stroke="#bbbbbb" stroke-width="0.4"/>
<line x1="350.28749999999997" y1="339.2" x2="350.28749999999997" y2="340.6" stroke="#bbbbbb" stroke-width="0.4"/>
<line x1="352.54999999999995" y1="339.2" x2="352.54999999999995" y2="342.4" stroke="#9a9a9a" stroke-width="0.4"/>
<line x1="354.8125" y1="339.2" x2="354.8125" y2="340.6" stroke="#bbbbbb" stroke-width="0.4"/>
<line x1="357.075" y1="339.2" x2="357.075" y2="340.6" stroke="#bbbbbb" stroke-width="0.4"/>
<line x1="359.3375" y1="339.2" x2="359.3375" y2="340.6" stroke="#bbbbbb" stroke-width="0.4"/>
<line x1="361.59999999999997" y1="339.2" x2="361.59999999999997" y2="342.4" stroke="#9a9a9a" stroke-width="0.4"/>
<line x1="363.86249999999995" y1="339.2" x2="363.86249999999995" y2="340.6" stroke="#bbbbbb" stroke-width="0.4"/>
<line x1="366.125" y1="339.2" x2="366.125" y2="340.6" stroke="#bbbbbb" stroke-width="0.4"/>
<line x1="368.3875" y1="339.2" x2="368.3875" y2="340.6" stroke="#bbbbbb" stroke-width="0.4"/>
<line x1="370.65" y1="339.2" x2="370.65" y2="342.4" stroke="#9a9a9a" stroke-width="0.4"/>
<line x1="372.91249999999997" y1="339.2" x2="372.91249999999997" y2="340.6" stroke="#bbbbbb" stroke-width="0.4"/>
<line x1="375.17499999999995" y1="339.2" x2="375.17499999999995" y2="340.6" stroke="#bbbbbb" stroke-width="0.4"/>
<line x1="377.4375" y1="339.2" x2="377.4375" y2="340.6" stroke="#bbbbbb" stroke-width="0.4"/>
<line x1="379.7" y1="339.2" x2="379.7" y2="342.4" stroke="#9a9a9a" stroke-width="0.4"/>
<line x1="381.9625" y1="339.2" x2="381.9625" y2="340.6" stroke="#bbbbbb" stroke-width="0.4"/>
<line x1="384.22499999999997" y1="339.2" x2="384.22499999999997" y2="340.6" stroke="#bbbbbb" stroke-width="0.4"/>
<line x1="386.48749999999995" y1="339.2" x2="386.48749999999995" y2="340.6" stroke="#bbbbbb" stroke-width="0.4"/>
<line x1="388.75" y1="339.2" x2="388.75" y2="342.4" stroke="#9a9a9a" stroke-width="0.4"/>
<line x1="391.0125" y1="339.2" x2="391.0125" y2="340.6" stroke="#bbbbbb" stroke-width="0.4"/>
<line x1="393.275" y1="339.2" x2="393.275" y2="340.6" stroke="#bbbbbb" stroke-width="0.4"/>
<line x1="395.53749999999997" y1="339.2" x2="395.53749999999997" y2="340.6" stroke="#bbbbbb" stroke-width="0.4"/>
<line x1="397.79999999999995" y1="339.2" x2="397.79999999999995" y2="342.4" stroke="#9a9a9a" stroke-width="0.4"/>
<line x1="400.0625" y1="339.2" x2="400.0625" y2="340.6" stroke="#bbbbbb" stroke-width="0.4"/>
<line x1="402.325" y1="339.2" x2="402.325" y2="340.6" stroke="#bbbbbb" stroke-width="0.4"/>
<line x1="404.5875" y1="339.2" x2="404.5875" y2="340.6" stroke="#bbbbbb" stroke-width="0.4"/>
<line x1="406.84999999999997" y1="339.2" x2="406.84999999999997" y2="342.4" stroke="#9a9a9a" stroke-width="0.4"/>
<line x1="409.11249999999995" y1="339.2" x2="409.11249999999995" y2="340.6" stroke="#bbbbbb" stroke-width="0.4"/>
<line x1="411.375" y1="339.2" x2="411.375" y2="340.6" stroke="#bbbbbb" stroke-width="0.4"/>
<line x1="413.6375" y1="339.2" x2="413.6375" y2="340.6" stroke="#bbbbbb" stroke-width="0.4"/>
<line x1="415.9" y1="339.2" x2="415.9" y2="342.4" stroke="#9a9a9a" stroke-width="0.4"/>
<line x1="415.9" y1="339.2" x2="415.9" y2="342.4" stroke="#9a9a9a" stroke-width="0.4"/>
<text x="325.4" y="346.3" style="font-family:'Liberation Sans',sans-serif;font-size:3.5px;font-weight:normal" fill="#555" text-anchor="middle" dominant-baseline="central" stroke="#555" stroke-width="0.12">14</text>
<text x="334.45" y="346.3" style="font-family:'Liberation Sans',sans-serif;font-size:3.5px;font-weight:normal" fill="#555" text-anchor="middle" dominant-baseline="central" stroke="#555" stroke-width="0.12">74</text>
<text x="343.5" y="346.3" style="font-family:'Liberation Sans',sans-serif;font-size:3.5px;font-weight:normal" fill="#555" text-anchor="middle" dominant-baseline="central" stroke="#555" stroke-width="0.12">134</text>
<text x="352.54999999999995" y="346.3" style="font-family:'Liberation Sans',sans-serif;font-size:3.5px;font-weight:normal" fill="#555" text-anchor="middle" dominant-baseline="central" stroke="#555" stroke-width="0.12">194</text>
<text x="361.59999999999997" y="346.3" style="font-family:'Liberation Sans',sans-serif;font-size:3.5px;font-weight:normal" fill="#555" text-anchor="middle" dominant-baseline="central" stroke="#555" stroke-width="0.12">254</text>
<text x="370.65" y="346.3" style="font-family:'Liberation Sans',sans-serif;font-size:3.5px;font-weight:normal" fill="#555" text-anchor="middle" dominant-baseline="central" stroke="#555" stroke-width="0.12">314</text>
<text x="379.7" y="346.3" style="font-family:'Liberation Sans',sans-serif;font-size:3.5px;font-weight:normal" fill="#555" text-anchor="middle" dominant-baseline="central" stroke="#555" stroke-width="0.12">374</text>
<text x="388.75" y="346.3" style="font-family:'Liberation Sans',sans-serif;font-size:3.5px;font-weight:normal" fill="#555" text-anchor="middle" dominant-baseline="central" stroke="#555" stroke-width="0.12">434</text>
<text x="397.79999999999995" y="346.3" style="font-family:'Liberation Sans',sans-serif;font-size:3.5px;font-weight:normal" fill="#555" text-anchor="middle" dominant-baseline="central" stroke="#555" stroke-width="0.12">494</text>
<text x="406.84999999999997" y="346.3" style="font-family:'Liberation Sans',sans-serif;font-size:3.5px;font-weight:normal" fill="#555" text-anchor="middle" dominant-baseline="central" stroke="#555" stroke-width="0.12">554</text>
<text x="416.4" y="346.3" style="font-family:'Liberation Sans',sans-serif;font-size:3.5px;font-weight:normal" fill="#555" text-anchor="middle" dominant-baseline="central" stroke="#555" stroke-width="0.12">607</text>
<rect x="321.6" y="357.2" width="5.0" height="5.3" fill="#fff" stroke="#666" stroke-width="0.5" rx="0.8"/>
<text x="329.8" y="361.4" style="font-family:'Liberation Sans',sans-serif;font-size:5.4px;font-weight:normal" fill="#444" text-anchor="start" dominant-baseline="central" stroke="#444" stroke-width="0.12">Set x-axis ranges</text>
<rect x="321.6" y="370.1" width="27.4" height="13.1" fill="#fff" stroke="#d4d4d4" stroke-width="0.6" rx="1.5"/>
<text x="335.3" y="377.8" style="font-family:'Liberation Sans',sans-serif;font-size:5.5px;font-weight:normal" fill="#333" text-anchor="middle" dominant-baseline="central" stroke="#333" stroke-width="0.12">Predict</text>
<text x="321.8" y="398.3" style="font-family:'Liberation Sans',sans-serif;font-size:5.55px;font-weight:normal" fill="#777" text-anchor="start" dominant-baseline="central" stroke="#777" stroke-width="0.12">Press Quit to exit the application</text>
<rect x="321.8" y="405.4" width="19.6" height="12.9" fill="#fff" stroke="#cfcfcf" stroke-width="0.6" rx="1.5"/>
<text x="331.6" y="413.0" style="font-family:'Liberation Sans',sans-serif;font-size:5.4px;font-weight:normal" fill="#333" text-anchor="middle" dominant-baseline="central" stroke="#333" stroke-width="0.12">Quit</text>
<text x="471.0" y="258.0" style="font-family:'Liberation Sans',sans-serif;font-size:5.6px;font-weight:normal" fill="#337ab7" text-anchor="middle" dominant-baseline="central" stroke="#337ab7" stroke-width="0.12">Graphical Summary</text>
<text x="534.1" y="258.0" style="font-family:'Liberation Sans',sans-serif;font-size:5.6px;font-weight:normal" fill="#337ab7" text-anchor="middle" dominant-baseline="central" stroke="#337ab7" stroke-width="0.12">Numerical Summary</text>
<path d="M567,266 L567,250.8 Q567,249.3 568.5,249.3 L618.5,249.3 Q620,249.3 620,250.8 L620,266" fill="#fff" stroke="#dddddd" stroke-width="0.6"/>
<text x="593.3" y="258.0" style="font-family:'Liberation Sans',sans-serif;font-size:5.6px;font-weight:normal" fill="#555" text-anchor="middle" dominant-baseline="central" stroke="#555" stroke-width="0.12">Model Summary</text>
<rect x="440.2" y="265.8" width="241.8" height="185.2" fill="#f5f5f5" stroke="#cccccc" stroke-width="0.6" rx="1.5"/>
<text x="444.0" y="281.6" style="font-family:'Liberation Mono',monospace;font-size:5.3px;font-weight:normal" fill="#222" text-anchor="start" dominant-baseline="central" stroke="#222" stroke-width="0.12" textLength="14.2" lengthAdjust="spacingAndGlyphs">Call:</text>
<text x="444.0" y="288.97" style="font-family:'Liberation Mono',monospace;font-size:5.3px;font-weight:normal" fill="#222" text-anchor="start" dominant-baseline="central" stroke="#222" stroke-width="0.12" textLength="227.2" lengthAdjust="spacingAndGlyphs">glm(formula = benefit ~ BCLC + Size + HSP90a, family = binomial(link = "logit"),</text>
<text x="444.0" y="296.34" style="font-family:'Liberation Mono',monospace;font-size:5.3px;font-weight:normal" fill="#222" text-anchor="start" dominant-baseline="central" stroke="#222" stroke-width="0.12" textLength="45.4" lengthAdjust="spacingAndGlyphs">    data = data)</text>
<text x="444.0" y="311.08" style="font-family:'Liberation Mono',monospace;font-size:5.3px;font-weight:normal" fill="#222" text-anchor="start" dominant-baseline="central" stroke="#222" stroke-width="0.12" textLength="36.9" lengthAdjust="spacingAndGlyphs">Coefficients:</text>
<text x="444.0" y="318.45" style="font-family:'Liberation Mono',monospace;font-size:5.3px;font-weight:normal" fill="#222" text-anchor="start" dominant-baseline="central" stroke="#222" stroke-width="0.12" textLength="139.2" lengthAdjust="spacingAndGlyphs">             Estimate Std. Error z value Pr(&gt;|z|)</text>
<text x="444.0" y="325.82" style="font-family:'Liberation Mono',monospace;font-size:5.3px;font-weight:normal" fill="#222" text-anchor="start" dominant-baseline="central" stroke="#222" stroke-width="0.12" textLength="153.4" lengthAdjust="spacingAndGlyphs">(Intercept) -2.4150915  0.2658308  -9.085  &lt; 2e-16 ***</text>
<text x="444.0" y="333.19" style="font-family:'Liberation Mono',monospace;font-size:5.3px;font-weight:normal" fill="#222" text-anchor="start" dominant-baseline="central" stroke="#222" stroke-width="0.12" textLength="150.5" lengthAdjust="spacingAndGlyphs">BCLCB        0.7649552  0.2959704   2.585  0.00975 **</text>
<text x="444.0" y="340.56" style="font-family:'Liberation Mono',monospace;font-size:5.3px;font-weight:normal" fill="#222" text-anchor="start" dominant-baseline="central" stroke="#222" stroke-width="0.12" textLength="153.4" lengthAdjust="spacingAndGlyphs">BCLCC        1.8986709  0.2749160   6.906 4.97e-12 ***</text>
<text x="444.0" y="347.93" style="font-family:'Liberation Mono',monospace;font-size:5.3px;font-weight:normal" fill="#222" text-anchor="start" dominant-baseline="central" stroke="#222" stroke-width="0.12" textLength="153.4" lengthAdjust="spacingAndGlyphs">Size.L       0.9863057  0.1917476   5.144 2.69e-07 ***</text>
<text x="444.0" y="355.3" style="font-family:'Liberation Mono',monospace;font-size:5.3px;font-weight:normal" fill="#222" text-anchor="start" dominant-baseline="central" stroke="#222" stroke-width="0.12" textLength="142.0" lengthAdjust="spacingAndGlyphs">Size.Q      -0.2275148  0.1665129  -1.366  0.17183</text>
<text x="444.0" y="362.67" style="font-family:'Liberation Mono',monospace;font-size:5.3px;font-weight:normal" fill="#222" text-anchor="start" dominant-baseline="central" stroke="#222" stroke-width="0.12" textLength="153.4" lengthAdjust="spacingAndGlyphs">Size.C      -0.5662971  0.1420119  -3.988 6.67e-05 ***</text>
<text x="444.0" y="370.04" style="font-family:'Liberation Mono',monospace;font-size:5.3px;font-weight:normal" fill="#222" text-anchor="start" dominant-baseline="central" stroke="#222" stroke-width="0.12" textLength="147.7" lengthAdjust="spacingAndGlyphs">HSP90a       0.0011135  0.0005427   2.052  0.04019 *</text>
<text x="444.0" y="377.41" style="font-family:'Liberation Mono',monospace;font-size:5.3px;font-weight:normal" fill="#222" text-anchor="start" dominant-baseline="central" stroke="#222" stroke-width="0.12" textLength="8.5" lengthAdjust="spacingAndGlyphs">---</text>
<text x="444.0" y="384.78" style="font-family:'Liberation Mono',monospace;font-size:5.3px;font-weight:normal" fill="#222" text-anchor="start" dominant-baseline="central" stroke="#222" stroke-width="0.12" textLength="176.1" lengthAdjust="spacingAndGlyphs">Signif. codes:  0 '***' 0.001 '**' 0.01 '*' 0.05 '.' 0.1 ' ' 1</text>
<text x="444.0" y="399.52" style="font-family:'Liberation Mono',monospace;font-size:5.3px;font-weight:normal" fill="#222" text-anchor="start" dominant-baseline="central" stroke="#222" stroke-width="0.12" textLength="159.0" lengthAdjust="spacingAndGlyphs">(Dispersion parameter for binomial family taken to be 1)</text>
<text x="444.0" y="414.26" style="font-family:'Liberation Mono',monospace;font-size:5.3px;font-weight:normal" fill="#222" text-anchor="start" dominant-baseline="central" stroke="#222" stroke-width="0.12" textLength="153.4" lengthAdjust="spacingAndGlyphs">    Null deviance: 1914.5  on 1428  degrees of freedom</text>
<text x="444.0" y="421.63" style="font-family:'Liberation Mono',monospace;font-size:5.3px;font-weight:normal" fill="#222" text-anchor="start" dominant-baseline="central" stroke="#222" stroke-width="0.12" textLength="153.4" lengthAdjust="spacingAndGlyphs">Residual deviance: 1658.5  on 1422  degrees of freedom</text>
<text x="444.0" y="429.0" style="font-family:'Liberation Mono',monospace;font-size:5.3px;font-weight:normal" fill="#222" text-anchor="start" dominant-baseline="central" stroke="#222" stroke-width="0.12" textLength="31.2" lengthAdjust="spacingAndGlyphs">AIC: 1672.5</text>
<text x="444.0" y="443.74" style="font-family:'Liberation Mono',monospace;font-size:5.3px;font-weight:normal" fill="#222" text-anchor="start" dominant-baseline="central" stroke="#222" stroke-width="0.12" textLength="107.9" lengthAdjust="spacingAndGlyphs">Number of Fisher Scoring iterations: 5</text>
<text x="8.4" y="476.0" style="font-family:'Liberation Serif',serif;font-size:14px;font-weight:normal" fill="#111" text-anchor="middle" dominant-baseline="central">F</text>
<text x="126.05" y="462.7" style="font-family:'Liberation Sans',sans-serif;font-size:9.5px;font-weight:bold" fill="#111" text-anchor="middle" dominant-baseline="central" stroke="#111" stroke-width="0.2">ROC Curve of Test</text>
<rect x="34.7" y="470.2" width="182.6" height="181.6" fill="none" stroke="#555" stroke-width="0.9" rx="0"/>
<line x1="41.4" y1="645.4" x2="210.6" y2="476.7" stroke="#c8c8c8" stroke-width="0.8"/>
<line x1="41.4" y1="651.8" x2="41.4" y2="656.5" stroke="#444" stroke-width="0.9"/>
<text x="41.4" y="664.1" style="font-family:'Liberation Sans',sans-serif;font-size:9.5px;font-weight:normal" fill="#222" text-anchor="middle" dominant-baseline="central" stroke="#222" stroke-width="0.2">0.0</text>
<line x1="75.24" y1="651.8" x2="75.24" y2="656.5" stroke="#444" stroke-width="0.9"/>
<text x="75.24" y="664.1" style="font-family:'Liberation Sans',sans-serif;font-size:9.5px;font-weight:normal" fill="#222" text-anchor="middle" dominant-baseline="central" stroke="#222" stroke-width="0.2">0.2</text>
<line x1="109.07999999999998" y1="651.8" x2="109.07999999999998" y2="656.5" stroke="#444" stroke-width="0.9"/>
<text x="109.07999999999998" y="664.1" style="font-family:'Liberation Sans',sans-serif;font-size:9.5px;font-weight:normal" fill="#222" text-anchor="middle" dominant-baseline="central" stroke="#222" stroke-width="0.2">0.4</text>
<line x1="142.92" y1="651.8" x2="142.92" y2="656.5" stroke="#444" stroke-width="0.9"/>
<text x="142.92" y="664.1" style="font-family:'Liberation Sans',sans-serif;font-size:9.5px;font-weight:normal" fill="#222" text-anchor="middle" dominant-baseline="central" stroke="#222" stroke-width="0.2">0.6</text>
<line x1="176.76" y1="651.8" x2="176.76" y2="656.5" stroke="#444" stroke-width="0.9"/>
<text x="176.76" y="664.1" style="font-family:'Liberation Sans',sans-serif;font-size:9.5px;font-weight:normal" fill="#222" text-anchor="middle" dominant-baseline="central" stroke="#222" stroke-width="0.2">0.8</text>
<line x1="210.6" y1="651.8" x2="210.6" y2="656.5" stroke="#444" stroke-width="0.9"/>
<text x="210.6" y="664.1" style="font-family:'Liberation Sans',sans-serif;font-size:9.5px;font-weight:normal" fill="#222" text-anchor="middle" dominant-baseline="central" stroke="#222" stroke-width="0.2">1.0</text>
<line x1="30" y1="645.4" x2="34.7" y2="645.4" stroke="#444" stroke-width="0.9"/>
<text x="23.6" y="645.4" style="font-family:'Liberation Sans',sans-serif;font-size:9.5px;font-weight:normal" fill="#222" text-anchor="middle" dominant-baseline="central" transform="rotate(-90 23.6 645.4)" stroke="#222" stroke-width="0.2">0</text>
<line x1="30" y1="476.7" x2="34.7" y2="476.7" stroke="#444" stroke-width="0.9"/>
<text x="23.6" y="476.7" style="font-family:'Liberation Sans',sans-serif;font-size:9.5px;font-weight:normal" fill="#222" text-anchor="middle" dominant-baseline="central" transform="rotate(-90 23.6 476.7)" stroke="#222" stroke-width="0.2">1</text>
<text x="125.95" y="675.2" style="font-family:'Liberation Sans',sans-serif;font-size:9.5px;font-weight:normal" fill="#222" text-anchor="middle" dominant-baseline="central" stroke="#222" stroke-width="0.2">1 − Specificity</text>
<text x="11.5" y="561" style="font-family:'Liberation Sans',sans-serif;font-size:9.5px;font-weight:normal" fill="#222" text-anchor="middle" dominant-baseline="central" transform="rotate(-90 11.5 561)" stroke="#222" stroke-width="0.2">Sensitivity</text>
<polyline points="41.40,645.40 41.40,626.10 41.40,624.63 41.60,624.63 41.60,621.70 41.80,621.70 41.80,618.77 42.00,618.77 42.00,617.30 42.00,615.98 42.20,615.98 42.20,613.35 42.40,613.35 42.40,610.72 42.60,610.72 42.60,608.08 42.80,608.08 42.80,605.45 43.00,605.45 43.00,602.82 43.20,602.82 43.20,601.50 43.20,600.18 43.40,600.18 43.40,597.55 43.60,597.55 43.60,594.92 43.80,594.92 43.80,592.28 44.00,592.28 44.00,589.65 44.20,589.65 44.20,587.02 44.40,587.02 44.40,585.70 44.40,584.23 44.87,584.23 44.87,581.30 45.33,581.30 45.33,578.37 45.80,578.37 45.80,576.90 45.80,575.60 48.50,575.60 48.50,574.30 48.50,572.55 49.70,572.55 49.70,570.80 49.70,569.33 50.17,569.33 50.17,566.40 50.63,566.40 50.63,563.47 51.10,563.47 51.10,562.00 51.10,560.65 53.40,560.65 53.40,559.30 53.40,557.98 53.50,557.98 53.50,555.35 53.60,555.35 53.60,552.72 53.70,552.72 53.70,551.40 53.70,550.22 54.60,550.22 54.60,547.85 55.50,547.85 55.50,545.48 56.40,545.48 56.40,544.30 56.40,543.08 57.37,543.08 57.37,540.65 58.33,540.65 58.33,538.22 59.30,538.22 59.30,537.00 59.30,535.90 60.40,535.90 60.40,533.70 61.50,533.70 61.50,532.60 61.50,531.38 62.97,531.38 62.97,528.95 64.43,528.95 64.43,526.52 65.90,526.52 65.90,525.30 65.90,524.55 68.80,524.55 68.80,523.80 68.80,522.70 69.15,522.70 69.15,520.50 69.50,520.50 69.50,519.40 69.50,517.95 71.70,517.95 71.70,516.50 71.70,515.23 72.80,515.23 72.80,512.67 73.90,512.67 73.90,511.40 73.90,509.92 75.75,509.92 75.75,506.97 77.60,506.97 77.60,505.50 77.60,504.60 80.15,504.60 80.15,502.80 82.70,502.80 82.70,501.90 82.70,500.60 83.45,500.60 83.45,498.00 84.20,498.00 84.20,496.70 84.20,495.60 86.40,495.60 86.40,493.40 88.60,493.40 88.60,492.30 88.60,490.50 90.00,490.50 90.00,488.70 90.00,487.95 93.00,487.95 93.00,487.20 93.00,485.93 94.10,485.93 94.10,483.38 95.20,483.38 95.20,482.10 95.20,481.18 98.10,481.18 98.10,479.32 101.00,479.32 101.00,478.40 101.00,477.55 104.70,477.55 104.70,476.70 210.60,476.70" fill="none" stroke="#e0902c" stroke-width="1.3" stroke-linejoin="round"/>
<rect x="80.5" y="556.6" width="106" height="12.6" fill="#fff" stroke="none" stroke-width="1" rx="0"/>
<text x="82.5" y="566.1" style="font-family:'Liberation Serif',serif;font-size:9.6px;font-weight:normal" fill="#e08a3c" text-anchor="start" dominant-baseline="central" stroke="#e08a3c" stroke-width="0.1">AUC: 0.901 (0.886-0.916)</text>
<text x="243.5" y="476.3" style="font-family:'Liberation Serif',serif;font-size:14px;font-weight:normal" fill="#111" text-anchor="middle" dominant-baseline="central">G</text>
<rect x="264.4" y="485.4" width="181.9" height="158.6" fill="none" stroke="#555" stroke-width="0.9" rx="0"/>
<line x1="271.0" y1="644" x2="271.0" y2="648.5" stroke="#444" stroke-width="0.9"/>
<line x1="260" y1="638.5" x2="264.4" y2="638.5" stroke="#444" stroke-width="0.9"/>
<text x="271.0" y="656.0" style="font-family:'Liberation Sans',sans-serif;font-size:10.0px;font-weight:normal" fill="#222" text-anchor="middle" dominant-baseline="central" stroke="#222" stroke-width="0.2">0.0</text>
<text x="253.3" y="638.5" style="font-family:'Liberation Sans',sans-serif;font-size:10.0px;font-weight:normal" fill="#222" text-anchor="middle" dominant-baseline="central" transform="rotate(-90 253.3 638.5)" stroke="#222" stroke-width="0.2">0.0</text>
<line x1="304.8" y1="644" x2="304.8" y2="648.5" stroke="#444" stroke-width="0.9"/>
<line x1="260" y1="609.04" x2="264.4" y2="609.04" stroke="#444" stroke-width="0.9"/>
<text x="304.8" y="656.0" style="font-family:'Liberation Sans',sans-serif;font-size:10.0px;font-weight:normal" fill="#222" text-anchor="middle" dominant-baseline="central" stroke="#222" stroke-width="0.2">0.2</text>
<text x="253.3" y="609.04" style="font-family:'Liberation Sans',sans-serif;font-size:10.0px;font-weight:normal" fill="#222" text-anchor="middle" dominant-baseline="central" transform="rotate(-90 253.3 609.04)" stroke="#222" stroke-width="0.2">0.2</text>
<line x1="338.6" y1="644" x2="338.6" y2="648.5" stroke="#444" stroke-width="0.9"/>
<line x1="260" y1="579.58" x2="264.4" y2="579.58" stroke="#444" stroke-width="0.9"/>
<text x="338.6" y="656.0" style="font-family:'Liberation Sans',sans-serif;font-size:10.0px;font-weight:normal" fill="#222" text-anchor="middle" dominant-baseline="central" stroke="#222" stroke-width="0.2">0.4</text>
<text x="253.3" y="579.58" style="font-family:'Liberation Sans',sans-serif;font-size:10.0px;font-weight:normal" fill="#222" text-anchor="middle" dominant-baseline="central" transform="rotate(-90 253.3 579.58)" stroke="#222" stroke-width="0.2">0.4</text>
<line x1="372.4" y1="644" x2="372.4" y2="648.5" stroke="#444" stroke-width="0.9"/>
<line x1="260" y1="550.12" x2="264.4" y2="550.12" stroke="#444" stroke-width="0.9"/>
<text x="372.4" y="656.0" style="font-family:'Liberation Sans',sans-serif;font-size:10.0px;font-weight:normal" fill="#222" text-anchor="middle" dominant-baseline="central" stroke="#222" stroke-width="0.2">0.6</text>
<text x="253.3" y="550.12" style="font-family:'Liberation Sans',sans-serif;font-size:10.0px;font-weight:normal" fill="#222" text-anchor="middle" dominant-baseline="central" transform="rotate(-90 253.3 550.12)" stroke="#222" stroke-width="0.2">0.6</text>
<line x1="406.20000000000005" y1="644" x2="406.20000000000005" y2="648.5" stroke="#444" stroke-width="0.9"/>
<line x1="260" y1="520.66" x2="264.4" y2="520.66" stroke="#444" stroke-width="0.9"/>
<text x="406.20000000000005" y="656.0" style="font-family:'Liberation Sans',sans-serif;font-size:10.0px;font-weight:normal" fill="#222" text-anchor="middle" dominant-baseline="central" stroke="#222" stroke-width="0.2">0.8</text>
<text x="253.3" y="520.66" style="font-family:'Liberation Sans',sans-serif;font-size:10.0px;font-weight:normal" fill="#222" text-anchor="middle" dominant-baseline="central" transform="rotate(-90 253.3 520.66)" stroke="#222" stroke-width="0.2">0.8</text>
<line x1="440.0" y1="644" x2="440.0" y2="648.5" stroke="#444" stroke-width="0.9"/>
<line x1="260" y1="491.2" x2="264.4" y2="491.2" stroke="#444" stroke-width="0.9"/>
<text x="440.0" y="656.0" style="font-family:'Liberation Sans',sans-serif;font-size:10.0px;font-weight:normal" fill="#222" text-anchor="middle" dominant-baseline="central" stroke="#222" stroke-width="0.2">1.0</text>
<text x="253.3" y="491.2" style="font-family:'Liberation Sans',sans-serif;font-size:10.0px;font-weight:normal" fill="#222" text-anchor="middle" dominant-baseline="central" transform="rotate(-90 253.3 491.2)" stroke="#222" stroke-width="0.2">1.0</text>
<text x="355.85" y="670.7" style="font-family:'Liberation Sans',sans-serif;font-size:9.5px;font-weight:normal" fill="#222" text-anchor="middle" dominant-baseline="central" stroke="#222" stroke-width="0.2">Predicted Probability</text>
<text x="237.4" y="564.9" style="font-family:'Liberation Sans',sans-serif;font-size:9.5px;font-weight:normal" fill="#222" text-anchor="middle" dominant-baseline="central" transform="rotate(-90 237.4 564.9)" stroke="#222" stroke-width="0.2">Observed Probability</text>
<text x="264.6" y="679.5" style="font-family:'Liberation Sans',sans-serif;font-size:6.35px;font-weight:normal" fill="#222" text-anchor="start" dominant-baseline="central" stroke="#222" stroke-width="0.2">B= 1000 repetitions, boot</text>
<text x="346.4" y="679.5" style="font-family:'Liberation Sans',sans-serif;font-size:6.35px;font-weight:normal" fill="#222" text-anchor="start" dominant-baseline="central" stroke="#222" stroke-width="0.2">Mean absolute error=0.009 n=1429</text>
<path d="M266.10,643.36 C269.73,639.97 281.45,629.12 287.90,623.03 C294.35,616.95 299.96,611.62 304.80,606.83 C309.64,602.04 314.26,597.26 316.97,594.31 C319.67,591.36 319.81,591.36 321.02,589.15 C322.24,586.94 322.91,583.09 324.24,581.05 C325.56,579.02 326.54,578.08 328.97,576.93 C331.39,575.77 335.25,575.65 338.77,574.13 C342.29,572.61 346.57,570.01 350.09,567.80 C353.61,565.59 356.18,563.82 359.89,560.87 C363.61,557.93 367.50,554.49 372.40,550.12 C377.30,545.75 383.67,539.56 389.30,534.65 C394.93,529.74 400.57,525.40 406.20,520.66 C411.83,515.92 418.31,510.35 423.10,506.22 C427.89,502.10 432.96,497.63 434.93,495.91" fill="none" stroke="#e8262c" stroke-width="1.2"/>
<path d="M266.10,643.36 C269.73,639.85 281.45,628.63 287.90,622.30 C294.35,615.96 299.96,610.32 304.80,605.36 C309.64,600.40 314.26,595.61 316.97,592.54 C319.67,589.47 319.81,589.08 321.02,586.95 C322.24,584.81 322.91,581.57 324.24,579.73 C325.56,577.89 326.54,577.00 328.97,575.90 C331.39,574.79 335.25,574.62 338.77,573.10 C342.29,571.58 346.57,568.90 350.09,566.76 C353.61,564.63 356.18,563.06 359.89,560.28 C363.61,557.51 367.50,554.27 372.40,550.12 C377.30,545.97 383.67,540.05 389.30,535.39 C394.93,530.73 400.57,526.75 406.20,522.13 C411.83,517.52 418.31,511.82 423.10,507.70 C427.89,503.57 432.96,499.11 434.93,497.39" fill="none" stroke="#4a56b0" stroke-width="1.0"/>
<line x1="264.4" y1="644.0" x2="446.3" y2="485.4" stroke="#222" stroke-width="0.8" stroke-dasharray="3,2.6"/>
<line x1="372.3" y1="577.2" x2="400.0" y2="577.2" stroke="#222" stroke-width="0.9" stroke-dasharray="3,2.6"/>
<line x1="372.3" y1="583.4" x2="400.0" y2="583.4" stroke="#5a64b8" stroke-width="0.8"/>
<line x1="372.3" y1="589.4" x2="400.0" y2="589.4" stroke="#f06a6e" stroke-width="0.8"/>
<text x="402.4" y="578.0" style="font-family:'Liberation Sans',sans-serif;font-size:6.4px;font-weight:normal" fill="#222" text-anchor="start" dominant-baseline="central" stroke="#222" stroke-width="0.2">Ideal</text>
<text x="402.4" y="584.1" style="font-family:'Liberation Sans',sans-serif;font-size:6.4px;font-weight:normal" fill="#222" text-anchor="start" dominant-baseline="central" stroke="#222" stroke-width="0.2">Apparent</text>
<text x="402.4" y="590.2" style="font-family:'Liberation Sans',sans-serif;font-size:6.4px;font-weight:normal" fill="#222" text-anchor="start" dominant-baseline="central" stroke="#222" stroke-width="0.2">Bias−corrected</text>
<text x="466.0" y="476.9" style="font-family:'Liberation Serif',serif;font-size:14px;font-weight:normal" fill="#111" text-anchor="middle" dominant-baseline="central">H</text>
<line x1="490.1" y1="474" x2="490.1" y2="640" stroke="#efefef" stroke-width="0.6"/>
<line x1="525.64" y1="474" x2="525.64" y2="640" stroke="#efefef" stroke-width="0.6"/>
<line x1="561.18" y1="474" x2="561.18" y2="640" stroke="#efefef" stroke-width="0.6"/>
<line x1="596.72" y1="474" x2="596.72" y2="640" stroke="#efefef" stroke-width="0.6"/>
<line x1="632.26" y1="474" x2="632.26" y2="640" stroke="#efefef" stroke-width="0.6"/>
<line x1="667.8" y1="474" x2="667.8" y2="640" stroke="#efefef" stroke-width="0.6"/>
<line x1="490.1" y1="648.3000000000001" x2="674" y2="648.3000000000001" stroke="#f0f0f0" stroke-width="0.6"/>
<line x1="490.1" y1="618.1" x2="674" y2="618.1" stroke="#f0f0f0" stroke-width="0.6"/>
<line x1="490.1" y1="587.9" x2="674" y2="587.9" stroke="#f0f0f0" stroke-width="0.6"/>
<line x1="490.1" y1="557.7" x2="674" y2="557.7" stroke="#f0f0f0" stroke-width="0.6"/>
<line x1="490.1" y1="527.5" x2="674" y2="527.5" stroke="#f0f0f0" stroke-width="0.6"/>
<line x1="490.1" y1="497.3" x2="674" y2="497.3" stroke="#f0f0f0" stroke-width="0.6"/>
<line x1="482.8" y1="497.3" x2="482.8" y2="618.1" stroke="#555" stroke-width="0.8"/>
<line x1="479.5" y1="618.1" x2="482.8" y2="618.1" stroke="#555" stroke-width="0.8"/>
<text x="475.2" y="616.9" style="font-family:'Liberation Sans',sans-serif;font-size:7.2px;font-weight:normal" fill="#222" text-anchor="middle" dominant-baseline="central" transform="rotate(-90 475.2 616.9)" stroke="#222" stroke-width="0.15">0.0</text>
<line x1="479.5" y1="587.9" x2="482.8" y2="587.9" stroke="#555" stroke-width="0.8"/>
<text x="475.2" y="586.6999999999999" style="font-family:'Liberation Sans',sans-serif;font-size:7.2px;font-weight:normal" fill="#222" text-anchor="middle" dominant-baseline="central" transform="rotate(-90 475.2 586.6999999999999)" stroke="#222" stroke-width="0.15">0.1</text>
<line x1="479.5" y1="557.7" x2="482.8" y2="557.7" stroke="#555" stroke-width="0.8"/>
<text x="475.2" y="556.5" style="font-family:'Liberation Sans',sans-serif;font-size:7.2px;font-weight:normal" fill="#222" text-anchor="middle" dominant-baseline="central" transform="rotate(-90 475.2 556.5)" stroke="#222" stroke-width="0.15">0.2</text>
<line x1="479.5" y1="527.5" x2="482.8" y2="527.5" stroke="#555" stroke-width="0.8"/>
<text x="475.2" y="526.3" style="font-family:'Liberation Sans',sans-serif;font-size:7.2px;font-weight:normal" fill="#222" text-anchor="middle" dominant-baseline="central" transform="rotate(-90 475.2 526.3)" stroke="#222" stroke-width="0.15">0.3</text>
<line x1="479.5" y1="497.3" x2="482.8" y2="497.3" stroke="#555" stroke-width="0.8"/>
<text x="475.2" y="496.1" style="font-family:'Liberation Sans',sans-serif;font-size:7.2px;font-weight:normal" fill="#222" text-anchor="middle" dominant-baseline="central" transform="rotate(-90 475.2 496.1)" stroke="#222" stroke-width="0.15">0.4</text>
<text x="464.4" y="553.3" style="font-family:'Liberation Sans',sans-serif;font-size:6.4px;font-weight:normal" fill="#222" text-anchor="middle" dominant-baseline="central" transform="rotate(-90 464.4 553.3)" stroke="#222" stroke-width="0.2">Net Benefit</text>
<line x1="490.1" y1="639.7" x2="667.8" y2="639.7" stroke="#555" stroke-width="0.8"/>
<line x1="490.1" y1="639.7" x2="490.1" y2="643.0" stroke="#555" stroke-width="0.8"/>
<text x="490.1" y="649.9" style="font-family:'Liberation Sans',sans-serif;font-size:6.8px;font-weight:normal" fill="#222" text-anchor="middle" dominant-baseline="central" stroke="#222" stroke-width="0.2">0.0</text>
<line x1="525.64" y1="639.7" x2="525.64" y2="643.0" stroke="#555" stroke-width="0.8"/>
<text x="525.64" y="649.9" style="font-family:'Liberation Sans',sans-serif;font-size:6.8px;font-weight:normal" fill="#222" text-anchor="middle" dominant-baseline="central" stroke="#222" stroke-width="0.2">0.2</text>
<line x1="561.18" y1="639.7" x2="561.18" y2="643.0" stroke="#555" stroke-width="0.8"/>
<text x="561.18" y="649.9" style="font-family:'Liberation Sans',sans-serif;font-size:6.8px;font-weight:normal" fill="#222" text-anchor="middle" dominant-baseline="central" stroke="#222" stroke-width="0.2">0.4</text>
<line x1="596.72" y1="639.7" x2="596.72" y2="643.0" stroke="#555" stroke-width="0.8"/>
<text x="596.72" y="649.9" style="font-family:'Liberation Sans',sans-serif;font-size:6.8px;font-weight:normal" fill="#222" text-anchor="middle" dominant-baseline="central" stroke="#222" stroke-width="0.2">0.6</text>
<line x1="632.26" y1="639.7" x2="632.26" y2="643.0" stroke="#555" stroke-width="0.8"/>
<text x="632.26" y="649.9" style="font-family:'Liberation Sans',sans-serif;font-size:6.8px;font-weight:normal" fill="#222" text-anchor="middle" dominant-baseline="central" stroke="#222" stroke-width="0.2">0.8</text>
<line x1="667.8" y1="639.7" x2="667.8" y2="643.0" stroke="#555" stroke-width="0.8"/>
<text x="667.8" y="649.9" style="font-family:'Liberation Sans',sans-serif;font-size:6.8px;font-weight:normal" fill="#222" text-anchor="middle" dominant-baseline="central" stroke="#222" stroke-width="0.2">1.0</text>
<text x="583.5" y="657.5" style="font-family:'Liberation Sans',sans-serif;font-size:6.3px;font-weight:normal" fill="#222" text-anchor="middle" dominant-baseline="central" stroke="#222" stroke-width="0.2">Threshold Probability</text>
<line x1="491.3" y1="663.2" x2="665.2" y2="663.2" stroke="#555" stroke-width="0.8"/>
<line x1="491.3" y1="663.2" x2="491.3" y2="666.4" stroke="#555" stroke-width="0.8"/>
<text x="493.5" y="672.9" style="font-family:'Liberation Sans',sans-serif;font-size:6.8px;font-weight:normal" fill="#222" text-anchor="middle" dominant-baseline="central" stroke="#222" stroke-width="0.2">1:100</text>
<line x1="526.08" y1="663.2" x2="526.08" y2="666.4" stroke="#555" stroke-width="0.8"/>
<text x="528.2" y="672.9" style="font-family:'Liberation Sans',sans-serif;font-size:6.8px;font-weight:normal" fill="#222" text-anchor="middle" dominant-baseline="central" stroke="#222" stroke-width="0.2">1:4</text>
<line x1="560.86" y1="663.2" x2="560.86" y2="666.4" stroke="#555" stroke-width="0.8"/>
<text x="562.9" y="672.9" style="font-family:'Liberation Sans',sans-serif;font-size:6.8px;font-weight:normal" fill="#222" text-anchor="middle" dominant-baseline="central" stroke="#222" stroke-width="0.2">2:3</text>
<line x1="595.64" y1="663.2" x2="595.64" y2="666.4" stroke="#555" stroke-width="0.8"/>
<text x="597.6" y="672.9" style="font-family:'Liberation Sans',sans-serif;font-size:6.8px;font-weight:normal" fill="#222" text-anchor="middle" dominant-baseline="central" stroke="#222" stroke-width="0.2">3:2</text>
<line x1="630.4200000000001" y1="663.2" x2="630.4200000000001" y2="666.4" stroke="#555" stroke-width="0.8"/>
<text x="632.3" y="672.9" style="font-family:'Liberation Sans',sans-serif;font-size:6.8px;font-weight:normal" fill="#222" text-anchor="middle" dominant-baseline="central" stroke="#222" stroke-width="0.2">4:1</text>
<line x1="665.2" y1="663.2" x2="665.2" y2="666.4" stroke="#555" stroke-width="0.8"/>
<text x="667.0" y="672.9" style="font-family:'Liberation Sans',sans-serif;font-size:6.8px;font-weight:normal" fill="#222" text-anchor="middle" dominant-baseline="central" stroke="#222" stroke-width="0.2">100:1</text>
<text x="581.7" y="679.1" style="font-family:'Liberation Sans',sans-serif;font-size:6.3px;font-weight:normal" fill="#222" text-anchor="middle" dominant-baseline="central" stroke="#222" stroke-width="0.2">Cost:Benefit Ratio</text>
<line x1="490.1" y1="618.1" x2="667.8" y2="618.1" stroke="#8a8a8a" stroke-width="1.1"/>
<polyline points="490.10,492.62 491.88,494.40 493.65,496.22 495.43,498.08 497.21,499.97 498.99,501.91 500.76,503.89 502.54,505.91 504.32,507.97 506.09,510.08 507.87,512.23 509.65,514.44 511.42,516.69 513.20,519.00 514.98,521.35 516.75,523.77 518.53,526.24 520.31,528.77 522.09,531.37 523.86,534.02 525.64,536.75 527.42,539.54 529.19,542.41 530.97,545.35 532.75,548.36 534.52,551.46 536.30,554.64 538.08,557.91 539.86,561.27 541.63,564.72 543.41,568.27 545.19,571.92 546.96,575.69 548.74,579.56 550.52,583.55 552.30,587.67 554.07,591.91 555.85,596.29 557.63,600.81 559.40,605.48 561.18,610.30 562.96,615.28 564.73,620.44 566.51,625.78 568.29,631.31 570.07,637.04" fill="none" stroke="#c4c4c4" stroke-width="0.9" stroke-linejoin="round"/>
<polyline points="489.40,492.60 502.50,497.80 515.40,504.90 525.90,510.10 534.00,514.20 543.40,521.20 550.40,527.00 557.40,532.90 560.00,535.80 565.30,539.30 570.50,544.50 575.80,548.90 578.40,554.20 582.80,556.80 588.00,561.20 592.40,566.40 596.80,569.90 602.00,570.80 607.30,576.10 616.10,581.30 620.40,585.70 623.10,589.20 628.30,590.10 630.10,584.50 635.30,590.10 640.60,598.80 643.20,605.00 647.60,607.60 649.70,605.00 651.10,607.60 652.90,605.80 662.50,618.30 665.10,618.30" fill="none" stroke="#d83c3c" stroke-width="1.1" stroke-linejoin="round"/>
<rect x="566.4" y="467.4" width="108.0" height="20.1" fill="#fff" stroke="#555" stroke-width="0.8" rx="0"/>
<line x1="580.6" y1="473.2" x2="609.8" y2="473.2" stroke="#d83c3c" stroke-width="1.0"/>
<line x1="580.6" y1="479.1" x2="609.8" y2="479.1" stroke="#d8d8d8" stroke-width="0.9"/>
<line x1="580.6" y1="484.2" x2="609.8" y2="484.2" stroke="#8a8a8a" stroke-width="0.9"/>
<text x="623.9" y="473.7" style="font-family:'Liberation Sans',sans-serif;font-size:6.4px;font-weight:normal" fill="#111" text-anchor="start" dominant-baseline="central" stroke="#111" stroke-width="0.2">Model</text>
<text x="623.9" y="479.3" style="font-family:'Liberation Sans',sans-serif;font-size:6.4px;font-weight:normal" fill="#111" text-anchor="start" dominant-baseline="central" stroke="#111" stroke-width="0.2">All</text>
<text x="623.9" y="484.8" style="font-family:'Liberation Sans',sans-serif;font-size:6.4px;font-weight:normal" fill="#111" text-anchor="start" dominant-baseline="central" stroke="#111" stroke-width="0.2">None</text>
</svg>
</body></html>
